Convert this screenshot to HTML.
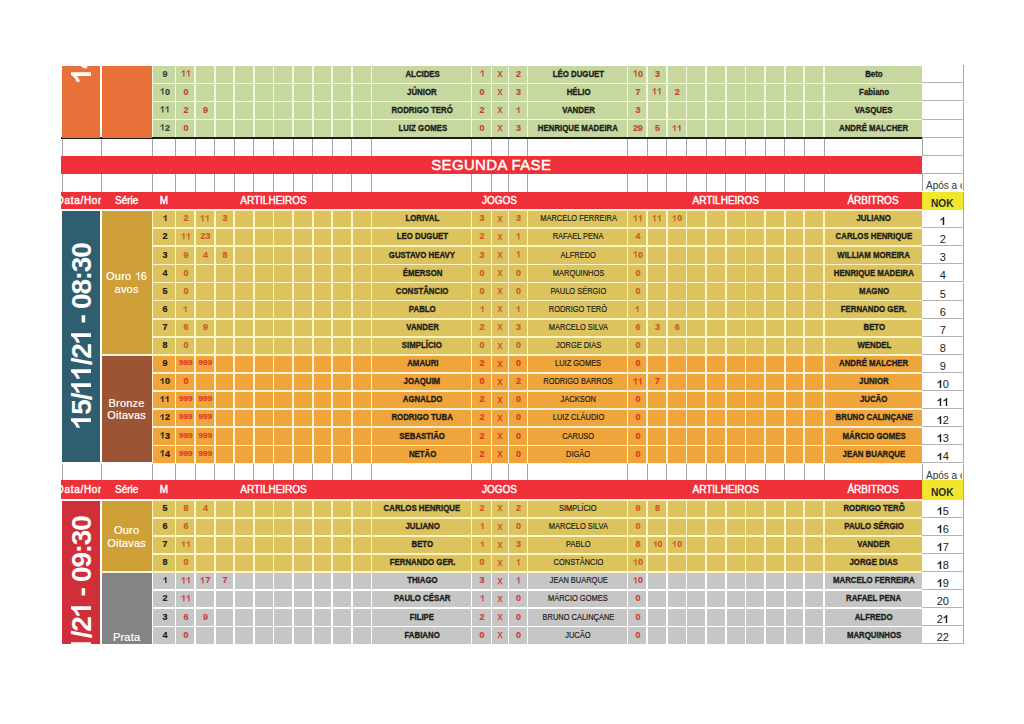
<!DOCTYPE html>
<html><head><meta charset="utf-8"><style>
html,body{margin:0;padding:0;background:#fff;width:1024px;height:724px;overflow:hidden;}
body{position:relative;font-family:"Liberation Sans",sans-serif;}
div{position:absolute;box-sizing:border-box;}
span{white-space:nowrap;}
.nm,.m,.n,.x,.nok,.h{display:flex;align-items:center;justify-content:center;white-space:nowrap;padding-bottom:1.5px;}
.nm span{font-size:9px;letter-spacing:0;color:#1e1e1a;display:inline-block;transform:scaleX(0.87);-webkit-text-stroke:0.35px #1e1e1a;padding-left:2px;padding-top:0;}
.b{font-weight:bold;}
.nm.b span{font-weight:bold;}
.nm.r span{font-weight:normal;-webkit-text-stroke:0.2px #1e1e1a;transform:scaleX(0.785);font-size:9.5px;padding-top:0;position:relative;top:-0.5px;}
.m span{font-size:9px;font-weight:bold;color:#202018;padding-left:2px;-webkit-text-stroke:0.2px currentColor;}
.m.g span{color:#34443A;}
.n{font-size:9px;font-weight:bold;letter-spacing:-0.2px;-webkit-text-stroke:0.2px currentColor;padding-left:1px;}
.x{font-size:10px;font-weight:normal;-webkit-text-stroke:0.25px currentColor;padding-top:0;padding-bottom:1.5px;}
.nok{font-size:11px;color:#222;padding-top:5.5px;}
.h{font-size:10px;font-weight:normal;-webkit-text-stroke:0.4px #fff;color:#fff;padding-top:0.5px;padding-bottom:1.5px;}
.sf{position:absolute;left:0;right:0;top:0px;text-align:center;color:#fff;font-size:15px;font-weight:normal;-webkit-text-stroke:0.45px #fff;top:0.5px;letter-spacing:0.35px;}
.apos{font-size:10px;color:#333;overflow:hidden;white-space:nowrap;padding-left:4px;padding-top:6.5px;}
.nokh{position:absolute;left:0;right:0;top:5.5px;text-align:center;font-size:10.2px;font-weight:bold;color:#2a2a2a;}
.blk{overflow:hidden;}
.g1{display:inline-block;width:0.556em;height:0.716em;vertical-align:baseline;}
.one{display:inline-block;width:0.556em;height:0.716em;margin-right:-1.25px;vertical-align:baseline;}
.rot{position:absolute;transform-origin:0 0;transform:rotate(-90deg);color:#fff;font-weight:bold;white-space:nowrap;line-height:1;}
.ser{position:absolute;left:0;right:0;text-align:center;color:#fff;font-size:11px;line-height:12.7px;letter-spacing:0.2px;-webkit-text-stroke:0.2px #fff;}
</style></head><body>
<div style="left:922.00px;top:64.80px;width:41.50px;height:1.00px;background:#B4B4B4"></div>
<div style="left:922.00px;top:65.30px;width:41.50px;height:18.10px;background:#fff;border-bottom:1px solid #B4B4B4;border-right:1.5px solid #A9A9A9;box-sizing:border-box"></div>
<div style="left:922.00px;top:83.40px;width:41.50px;height:18.10px;background:#fff;border-bottom:1px solid #B4B4B4;border-right:1.5px solid #A9A9A9;box-sizing:border-box"></div>
<div style="left:922.00px;top:101.50px;width:41.50px;height:18.10px;background:#fff;border-bottom:1px solid #B4B4B4;border-right:1.5px solid #A9A9A9;box-sizing:border-box"></div>
<div style="left:922.00px;top:119.60px;width:41.50px;height:18.10px;background:#fff;border-bottom:1px solid #B4B4B4;border-right:1.5px solid #A9A9A9;box-sizing:border-box"></div>
<div style="left:922.00px;top:137.70px;width:41.50px;height:18.10px;background:#fff;border-bottom:1px solid #B4B4B4;border-right:1.5px solid #A9A9A9;box-sizing:border-box"></div>
<div style="left:922.00px;top:155.80px;width:41.50px;height:18.10px;background:#fff;border-bottom:1px solid #B4B4B4;border-right:1.5px solid #A9A9A9;box-sizing:border-box"></div>
<div style="left:922.00px;top:173.90px;width:41.50px;height:18.10px;background:#fff;border-bottom:1px solid #B4B4B4;border-right:1.5px solid #A9A9A9;box-sizing:border-box"></div>
<div style="left:922.00px;top:192.00px;width:41.50px;height:18.10px;background:#fff;border-bottom:1px solid #B4B4B4;border-right:1.5px solid #A9A9A9;box-sizing:border-box"></div>
<div style="left:922.00px;top:210.10px;width:41.50px;height:18.10px;background:#fff;border-bottom:1px solid #B4B4B4;border-right:1.5px solid #A9A9A9;box-sizing:border-box"></div>
<div style="left:922.00px;top:228.20px;width:41.50px;height:18.10px;background:#fff;border-bottom:1px solid #B4B4B4;border-right:1.5px solid #A9A9A9;box-sizing:border-box"></div>
<div style="left:922.00px;top:246.30px;width:41.50px;height:18.10px;background:#fff;border-bottom:1px solid #B4B4B4;border-right:1.5px solid #A9A9A9;box-sizing:border-box"></div>
<div style="left:922.00px;top:264.40px;width:41.50px;height:18.10px;background:#fff;border-bottom:1px solid #B4B4B4;border-right:1.5px solid #A9A9A9;box-sizing:border-box"></div>
<div style="left:922.00px;top:282.50px;width:41.50px;height:18.10px;background:#fff;border-bottom:1px solid #B4B4B4;border-right:1.5px solid #A9A9A9;box-sizing:border-box"></div>
<div style="left:922.00px;top:300.60px;width:41.50px;height:18.10px;background:#fff;border-bottom:1px solid #B4B4B4;border-right:1.5px solid #A9A9A9;box-sizing:border-box"></div>
<div style="left:922.00px;top:318.70px;width:41.50px;height:18.10px;background:#fff;border-bottom:1px solid #B4B4B4;border-right:1.5px solid #A9A9A9;box-sizing:border-box"></div>
<div style="left:922.00px;top:336.80px;width:41.50px;height:18.10px;background:#fff;border-bottom:1px solid #B4B4B4;border-right:1.5px solid #A9A9A9;box-sizing:border-box"></div>
<div style="left:922.00px;top:354.90px;width:41.50px;height:18.10px;background:#fff;border-bottom:1px solid #B4B4B4;border-right:1.5px solid #A9A9A9;box-sizing:border-box"></div>
<div style="left:922.00px;top:373.00px;width:41.50px;height:18.10px;background:#fff;border-bottom:1px solid #B4B4B4;border-right:1.5px solid #A9A9A9;box-sizing:border-box"></div>
<div style="left:922.00px;top:391.10px;width:41.50px;height:18.10px;background:#fff;border-bottom:1px solid #B4B4B4;border-right:1.5px solid #A9A9A9;box-sizing:border-box"></div>
<div style="left:922.00px;top:409.20px;width:41.50px;height:18.10px;background:#fff;border-bottom:1px solid #B4B4B4;border-right:1.5px solid #A9A9A9;box-sizing:border-box"></div>
<div style="left:922.00px;top:427.30px;width:41.50px;height:18.10px;background:#fff;border-bottom:1px solid #B4B4B4;border-right:1.5px solid #A9A9A9;box-sizing:border-box"></div>
<div style="left:922.00px;top:445.40px;width:41.50px;height:18.10px;background:#fff;border-bottom:1px solid #B4B4B4;border-right:1.5px solid #A9A9A9;box-sizing:border-box"></div>
<div style="left:922.00px;top:463.50px;width:41.50px;height:18.10px;background:#fff;border-bottom:1px solid #B4B4B4;border-right:1.5px solid #A9A9A9;box-sizing:border-box"></div>
<div style="left:922.00px;top:481.60px;width:41.50px;height:18.10px;background:#fff;border-bottom:1px solid #B4B4B4;border-right:1.5px solid #A9A9A9;box-sizing:border-box"></div>
<div style="left:922.00px;top:499.70px;width:41.50px;height:18.10px;background:#fff;border-bottom:1px solid #B4B4B4;border-right:1.5px solid #A9A9A9;box-sizing:border-box"></div>
<div style="left:922.00px;top:517.80px;width:41.50px;height:18.10px;background:#fff;border-bottom:1px solid #B4B4B4;border-right:1.5px solid #A9A9A9;box-sizing:border-box"></div>
<div style="left:922.00px;top:535.90px;width:41.50px;height:18.10px;background:#fff;border-bottom:1px solid #B4B4B4;border-right:1.5px solid #A9A9A9;box-sizing:border-box"></div>
<div style="left:922.00px;top:554.00px;width:41.50px;height:18.10px;background:#fff;border-bottom:1px solid #B4B4B4;border-right:1.5px solid #A9A9A9;box-sizing:border-box"></div>
<div style="left:922.00px;top:572.10px;width:41.50px;height:18.10px;background:#fff;border-bottom:1px solid #B4B4B4;border-right:1.5px solid #A9A9A9;box-sizing:border-box"></div>
<div style="left:922.00px;top:590.20px;width:41.50px;height:18.10px;background:#fff;border-bottom:1px solid #B4B4B4;border-right:1.5px solid #A9A9A9;box-sizing:border-box"></div>
<div style="left:922.00px;top:608.30px;width:41.50px;height:18.10px;background:#fff;border-bottom:1px solid #B4B4B4;border-right:1.5px solid #A9A9A9;box-sizing:border-box"></div>
<div style="left:922.00px;top:626.40px;width:41.50px;height:18.10px;background:#fff;border-bottom:1px solid #B4B4B4;border-right:1.5px solid #A9A9A9;box-sizing:border-box"></div>
<div style="left:152.50px;top:65.90px;width:769.50px;height:17.50px;background:#C6D89F"></div>
<div class="m g" style="left:152.50px;top:65.30px;width:23.00px;height:18.1px"><span>9</span></div>
<div class="n" style="left:175.50px;top:65.30px;width:19.60px;height:18.1px;color:#C04830;"><svg class="g1" viewBox="0 0 556 716" preserveAspectRatio="none"><path d="M250,716 L385,716 L385,0 L290,0 C255,80 160,160 45,200 L45,320 C125,295 195,255 250,205 Z" fill="currentColor"/></svg><svg class="g1" viewBox="0 0 556 716" preserveAspectRatio="none"><path d="M250,716 L385,716 L385,0 L290,0 C255,80 160,160 45,200 L45,320 C125,295 195,255 250,205 Z" fill="currentColor"/></svg></div>
<div class="nm b" style="left:371.50px;top:65.30px;width:100.00px;height:18.1px"><span>ALCIDES</span></div>
<div class="n" style="left:471.50px;top:65.30px;width:20.00px;height:18.1px;color:#C04830"><svg class="g1" viewBox="0 0 556 716" preserveAspectRatio="none"><path d="M250,716 L385,716 L385,0 L290,0 C255,80 160,160 45,200 L45,320 C125,295 195,255 250,205 Z" fill="currentColor"/></svg></div>
<div class="x" style="left:491.50px;top:65.30px;width:17.00px;height:18.1px;color:#C04830">x</div>
<div class="n" style="left:508.50px;top:65.30px;width:19.00px;height:18.1px;color:#C04830">2</div>
<div class="nm b" style="left:527.50px;top:65.30px;width:100.00px;height:18.1px"><span>LÉO DUGUET</span></div>
<div class="n" style="left:627.50px;top:65.30px;width:19.65px;height:18.1px;color:#C04830"><svg class="g1" viewBox="0 0 556 716" preserveAspectRatio="none"><path d="M250,716 L385,716 L385,0 L290,0 C255,80 160,160 45,200 L45,320 C125,295 195,255 250,205 Z" fill="currentColor"/></svg>0</div>
<div class="n" style="left:647.15px;top:65.30px;width:19.65px;height:18.1px;color:#C04830">3</div>
<div class="nm b" style="left:824.00px;top:65.30px;width:98.00px;height:18.1px"><span>Beto</span></div>
<div style="left:152.50px;top:83.40px;width:769.50px;height:18.10px;background:#C6D89F"></div>
<div class="m g" style="left:152.50px;top:83.40px;width:23.00px;height:18.1px"><span><svg class="g1" viewBox="0 0 556 716" preserveAspectRatio="none"><path d="M250,716 L385,716 L385,0 L290,0 C255,80 160,160 45,200 L45,320 C125,295 195,255 250,205 Z" fill="currentColor"/></svg>0</span></div>
<div class="n" style="left:175.50px;top:83.40px;width:19.60px;height:18.1px;color:#C04830;">0</div>
<div class="nm b" style="left:371.50px;top:83.40px;width:100.00px;height:18.1px"><span>JÚNIOR</span></div>
<div class="n" style="left:471.50px;top:83.40px;width:20.00px;height:18.1px;color:#C04830">0</div>
<div class="x" style="left:491.50px;top:83.40px;width:17.00px;height:18.1px;color:#C04830">x</div>
<div class="n" style="left:508.50px;top:83.40px;width:19.00px;height:18.1px;color:#C04830">3</div>
<div class="nm b" style="left:527.50px;top:83.40px;width:100.00px;height:18.1px"><span>HÉLIO</span></div>
<div class="n" style="left:627.50px;top:83.40px;width:19.65px;height:18.1px;color:#C04830">7</div>
<div class="n" style="left:647.15px;top:83.40px;width:19.65px;height:18.1px;color:#C04830"><svg class="g1" viewBox="0 0 556 716" preserveAspectRatio="none"><path d="M250,716 L385,716 L385,0 L290,0 C255,80 160,160 45,200 L45,320 C125,295 195,255 250,205 Z" fill="currentColor"/></svg><svg class="g1" viewBox="0 0 556 716" preserveAspectRatio="none"><path d="M250,716 L385,716 L385,0 L290,0 C255,80 160,160 45,200 L45,320 C125,295 195,255 250,205 Z" fill="currentColor"/></svg></div>
<div class="n" style="left:666.80px;top:83.40px;width:19.65px;height:18.1px;color:#C04830">2</div>
<div class="nm b" style="left:824.00px;top:83.40px;width:98.00px;height:18.1px"><span>Fabiano</span></div>
<div style="left:152.50px;top:101.50px;width:769.50px;height:18.10px;background:#C6D89F"></div>
<div class="m g" style="left:152.50px;top:101.50px;width:23.00px;height:18.1px"><span><svg class="g1" viewBox="0 0 556 716" preserveAspectRatio="none"><path d="M250,716 L385,716 L385,0 L290,0 C255,80 160,160 45,200 L45,320 C125,295 195,255 250,205 Z" fill="currentColor"/></svg><svg class="g1" viewBox="0 0 556 716" preserveAspectRatio="none"><path d="M250,716 L385,716 L385,0 L290,0 C255,80 160,160 45,200 L45,320 C125,295 195,255 250,205 Z" fill="currentColor"/></svg></span></div>
<div class="n" style="left:175.50px;top:101.50px;width:19.60px;height:18.1px;color:#C04830;">2</div>
<div class="n" style="left:195.10px;top:101.50px;width:19.60px;height:18.1px;color:#C04830;">9</div>
<div class="nm b" style="left:371.50px;top:101.50px;width:100.00px;height:18.1px"><span>RODRIGO TERÓ</span></div>
<div class="n" style="left:471.50px;top:101.50px;width:20.00px;height:18.1px;color:#C04830">2</div>
<div class="x" style="left:491.50px;top:101.50px;width:17.00px;height:18.1px;color:#C04830">x</div>
<div class="n" style="left:508.50px;top:101.50px;width:19.00px;height:18.1px;color:#C04830"><svg class="g1" viewBox="0 0 556 716" preserveAspectRatio="none"><path d="M250,716 L385,716 L385,0 L290,0 C255,80 160,160 45,200 L45,320 C125,295 195,255 250,205 Z" fill="currentColor"/></svg></div>
<div class="nm b" style="left:527.50px;top:101.50px;width:100.00px;height:18.1px"><span>VANDER</span></div>
<div class="n" style="left:627.50px;top:101.50px;width:19.65px;height:18.1px;color:#C04830">3</div>
<div class="nm b" style="left:824.00px;top:101.50px;width:98.00px;height:18.1px"><span>VASQUES</span></div>
<div style="left:152.50px;top:119.60px;width:769.50px;height:18.10px;background:#C6D89F"></div>
<div class="m g" style="left:152.50px;top:119.60px;width:23.00px;height:18.1px"><span><svg class="g1" viewBox="0 0 556 716" preserveAspectRatio="none"><path d="M250,716 L385,716 L385,0 L290,0 C255,80 160,160 45,200 L45,320 C125,295 195,255 250,205 Z" fill="currentColor"/></svg>2</span></div>
<div class="n" style="left:175.50px;top:119.60px;width:19.60px;height:18.1px;color:#C04830;">0</div>
<div class="nm b" style="left:371.50px;top:119.60px;width:100.00px;height:18.1px"><span>LUIZ GOMES</span></div>
<div class="n" style="left:471.50px;top:119.60px;width:20.00px;height:18.1px;color:#C04830">0</div>
<div class="x" style="left:491.50px;top:119.60px;width:17.00px;height:18.1px;color:#C04830">x</div>
<div class="n" style="left:508.50px;top:119.60px;width:19.00px;height:18.1px;color:#C04830">3</div>
<div class="nm b" style="left:527.50px;top:119.60px;width:100.00px;height:18.1px"><span>HENRIQUE MADEIRA</span></div>
<div class="n" style="left:627.50px;top:119.60px;width:19.65px;height:18.1px;color:#C04830">29</div>
<div class="n" style="left:647.15px;top:119.60px;width:19.65px;height:18.1px;color:#C04830">5</div>
<div class="n" style="left:666.80px;top:119.60px;width:19.65px;height:18.1px;color:#C04830"><svg class="g1" viewBox="0 0 556 716" preserveAspectRatio="none"><path d="M250,716 L385,716 L385,0 L290,0 C255,80 160,160 45,200 L45,320 C125,295 195,255 250,205 Z" fill="currentColor"/></svg><svg class="g1" viewBox="0 0 556 716" preserveAspectRatio="none"><path d="M250,716 L385,716 L385,0 L290,0 C255,80 160,160 45,200 L45,320 C125,295 195,255 250,205 Z" fill="currentColor"/></svg></div>
<div class="nm b" style="left:824.00px;top:119.60px;width:98.00px;height:18.1px"><span>ANDRÉ MALCHER</span></div>
<div style="left:152.50px;top:210.10px;width:769.50px;height:18.10px;background:#DDC35E"></div>
<div class="m" style="left:152.50px;top:210.10px;width:23.00px;height:18.1px"><span><svg class="g1" viewBox="0 0 556 716" preserveAspectRatio="none"><path d="M250,716 L385,716 L385,0 L290,0 C255,80 160,160 45,200 L45,320 C125,295 195,255 250,205 Z" fill="currentColor"/></svg></span></div>
<div class="n" style="left:175.50px;top:210.10px;width:19.60px;height:18.1px;color:#CC5A22;">2</div>
<div class="n" style="left:195.10px;top:210.10px;width:19.60px;height:18.1px;color:#CC5A22;"><svg class="g1" viewBox="0 0 556 716" preserveAspectRatio="none"><path d="M250,716 L385,716 L385,0 L290,0 C255,80 160,160 45,200 L45,320 C125,295 195,255 250,205 Z" fill="currentColor"/></svg><svg class="g1" viewBox="0 0 556 716" preserveAspectRatio="none"><path d="M250,716 L385,716 L385,0 L290,0 C255,80 160,160 45,200 L45,320 C125,295 195,255 250,205 Z" fill="currentColor"/></svg></div>
<div class="n" style="left:214.70px;top:210.10px;width:19.60px;height:18.1px;color:#CC5A22;">3</div>
<div class="nm b" style="left:371.50px;top:210.10px;width:100.00px;height:18.1px"><span>LORIVAL</span></div>
<div class="n" style="left:471.50px;top:210.10px;width:20.00px;height:18.1px;color:#CC5A22">3</div>
<div class="x" style="left:491.50px;top:210.10px;width:17.00px;height:18.1px;color:#CC5A22">x</div>
<div class="n" style="left:508.50px;top:210.10px;width:19.00px;height:18.1px;color:#CC5A22">3</div>
<div class="nm r" style="left:527.50px;top:210.10px;width:100.00px;height:18.1px"><span>MARCELO FERREIRA</span></div>
<div class="n" style="left:627.50px;top:210.10px;width:19.65px;height:18.1px;color:#CC5A22"><svg class="g1" viewBox="0 0 556 716" preserveAspectRatio="none"><path d="M250,716 L385,716 L385,0 L290,0 C255,80 160,160 45,200 L45,320 C125,295 195,255 250,205 Z" fill="currentColor"/></svg><svg class="g1" viewBox="0 0 556 716" preserveAspectRatio="none"><path d="M250,716 L385,716 L385,0 L290,0 C255,80 160,160 45,200 L45,320 C125,295 195,255 250,205 Z" fill="currentColor"/></svg></div>
<div class="n" style="left:647.15px;top:210.10px;width:19.65px;height:18.1px;color:#CC5A22"><svg class="g1" viewBox="0 0 556 716" preserveAspectRatio="none"><path d="M250,716 L385,716 L385,0 L290,0 C255,80 160,160 45,200 L45,320 C125,295 195,255 250,205 Z" fill="currentColor"/></svg><svg class="g1" viewBox="0 0 556 716" preserveAspectRatio="none"><path d="M250,716 L385,716 L385,0 L290,0 C255,80 160,160 45,200 L45,320 C125,295 195,255 250,205 Z" fill="currentColor"/></svg></div>
<div class="n" style="left:666.80px;top:210.10px;width:19.65px;height:18.1px;color:#CC5A22"><svg class="g1" viewBox="0 0 556 716" preserveAspectRatio="none"><path d="M250,716 L385,716 L385,0 L290,0 C255,80 160,160 45,200 L45,320 C125,295 195,255 250,205 Z" fill="currentColor"/></svg>0</div>
<div class="nm b" style="left:824.00px;top:210.10px;width:98.00px;height:18.1px"><span>JULIANO</span></div>
<div class="nok" style="left:922.00px;top:210.10px;width:41.50px;height:18.1px"><svg class="g1" viewBox="0 0 556 716" preserveAspectRatio="none"><path d="M250,716 L385,716 L385,0 L290,0 C255,80 160,160 45,200 L45,320 C125,295 195,255 250,205 Z" fill="currentColor"/></svg></div>
<div style="left:152.50px;top:228.20px;width:769.50px;height:18.10px;background:#DDC35E"></div>
<div class="m" style="left:152.50px;top:228.20px;width:23.00px;height:18.1px"><span>2</span></div>
<div class="n" style="left:175.50px;top:228.20px;width:19.60px;height:18.1px;color:#CC5A22;"><svg class="g1" viewBox="0 0 556 716" preserveAspectRatio="none"><path d="M250,716 L385,716 L385,0 L290,0 C255,80 160,160 45,200 L45,320 C125,295 195,255 250,205 Z" fill="currentColor"/></svg><svg class="g1" viewBox="0 0 556 716" preserveAspectRatio="none"><path d="M250,716 L385,716 L385,0 L290,0 C255,80 160,160 45,200 L45,320 C125,295 195,255 250,205 Z" fill="currentColor"/></svg></div>
<div class="n" style="left:195.10px;top:228.20px;width:19.60px;height:18.1px;color:#CC5A22;">23</div>
<div class="nm b" style="left:371.50px;top:228.20px;width:100.00px;height:18.1px"><span>LEO DUGUET</span></div>
<div class="n" style="left:471.50px;top:228.20px;width:20.00px;height:18.1px;color:#CC5A22">2</div>
<div class="x" style="left:491.50px;top:228.20px;width:17.00px;height:18.1px;color:#CC5A22">x</div>
<div class="n" style="left:508.50px;top:228.20px;width:19.00px;height:18.1px;color:#CC5A22"><svg class="g1" viewBox="0 0 556 716" preserveAspectRatio="none"><path d="M250,716 L385,716 L385,0 L290,0 C255,80 160,160 45,200 L45,320 C125,295 195,255 250,205 Z" fill="currentColor"/></svg></div>
<div class="nm r" style="left:527.50px;top:228.20px;width:100.00px;height:18.1px"><span>RAFAEL PENA</span></div>
<div class="n" style="left:627.50px;top:228.20px;width:19.65px;height:18.1px;color:#CC5A22">4</div>
<div class="nm b" style="left:824.00px;top:228.20px;width:98.00px;height:18.1px"><span>CARLOS HENRIQUE</span></div>
<div class="nok" style="left:922.00px;top:228.20px;width:41.50px;height:18.1px">2</div>
<div style="left:152.50px;top:246.30px;width:769.50px;height:18.10px;background:#DDC35E"></div>
<div class="m" style="left:152.50px;top:246.30px;width:23.00px;height:18.1px"><span>3</span></div>
<div class="n" style="left:175.50px;top:246.30px;width:19.60px;height:18.1px;color:#CC5A22;">9</div>
<div class="n" style="left:195.10px;top:246.30px;width:19.60px;height:18.1px;color:#CC5A22;">4</div>
<div class="n" style="left:214.70px;top:246.30px;width:19.60px;height:18.1px;color:#CC5A22;">8</div>
<div class="nm b" style="left:371.50px;top:246.30px;width:100.00px;height:18.1px"><span>GUSTAVO HEAVY</span></div>
<div class="n" style="left:471.50px;top:246.30px;width:20.00px;height:18.1px;color:#CC5A22">3</div>
<div class="x" style="left:491.50px;top:246.30px;width:17.00px;height:18.1px;color:#CC5A22">x</div>
<div class="n" style="left:508.50px;top:246.30px;width:19.00px;height:18.1px;color:#CC5A22"><svg class="g1" viewBox="0 0 556 716" preserveAspectRatio="none"><path d="M250,716 L385,716 L385,0 L290,0 C255,80 160,160 45,200 L45,320 C125,295 195,255 250,205 Z" fill="currentColor"/></svg></div>
<div class="nm r" style="left:527.50px;top:246.30px;width:100.00px;height:18.1px"><span>ALFREDO</span></div>
<div class="n" style="left:627.50px;top:246.30px;width:19.65px;height:18.1px;color:#CC5A22"><svg class="g1" viewBox="0 0 556 716" preserveAspectRatio="none"><path d="M250,716 L385,716 L385,0 L290,0 C255,80 160,160 45,200 L45,320 C125,295 195,255 250,205 Z" fill="currentColor"/></svg>0</div>
<div class="nm b" style="left:824.00px;top:246.30px;width:98.00px;height:18.1px"><span>WILLIAM MOREIRA</span></div>
<div class="nok" style="left:922.00px;top:246.30px;width:41.50px;height:18.1px">3</div>
<div style="left:152.50px;top:264.40px;width:769.50px;height:18.10px;background:#DDC35E"></div>
<div class="m" style="left:152.50px;top:264.40px;width:23.00px;height:18.1px"><span>4</span></div>
<div class="n" style="left:175.50px;top:264.40px;width:19.60px;height:18.1px;color:#CC5A22;">0</div>
<div class="nm b" style="left:371.50px;top:264.40px;width:100.00px;height:18.1px"><span>ÉMERSON</span></div>
<div class="n" style="left:471.50px;top:264.40px;width:20.00px;height:18.1px;color:#CC5A22">0</div>
<div class="x" style="left:491.50px;top:264.40px;width:17.00px;height:18.1px;color:#CC5A22">x</div>
<div class="n" style="left:508.50px;top:264.40px;width:19.00px;height:18.1px;color:#CC5A22">0</div>
<div class="nm r" style="left:527.50px;top:264.40px;width:100.00px;height:18.1px"><span>MARQUINHOS</span></div>
<div class="n" style="left:627.50px;top:264.40px;width:19.65px;height:18.1px;color:#CC5A22">0</div>
<div class="nm b" style="left:824.00px;top:264.40px;width:98.00px;height:18.1px"><span>HENRIQUE MADEIRA</span></div>
<div class="nok" style="left:922.00px;top:264.40px;width:41.50px;height:18.1px">4</div>
<div style="left:152.50px;top:282.50px;width:769.50px;height:18.10px;background:#DDC35E"></div>
<div class="m" style="left:152.50px;top:282.50px;width:23.00px;height:18.1px"><span>5</span></div>
<div class="n" style="left:175.50px;top:282.50px;width:19.60px;height:18.1px;color:#CC5A22;">0</div>
<div class="nm b" style="left:371.50px;top:282.50px;width:100.00px;height:18.1px"><span>CONSTÂNCIO</span></div>
<div class="n" style="left:471.50px;top:282.50px;width:20.00px;height:18.1px;color:#CC5A22">0</div>
<div class="x" style="left:491.50px;top:282.50px;width:17.00px;height:18.1px;color:#CC5A22">x</div>
<div class="n" style="left:508.50px;top:282.50px;width:19.00px;height:18.1px;color:#CC5A22">0</div>
<div class="nm r" style="left:527.50px;top:282.50px;width:100.00px;height:18.1px"><span>PAULO SÉRGIO</span></div>
<div class="n" style="left:627.50px;top:282.50px;width:19.65px;height:18.1px;color:#CC5A22">0</div>
<div class="nm b" style="left:824.00px;top:282.50px;width:98.00px;height:18.1px"><span>MAGNO</span></div>
<div class="nok" style="left:922.00px;top:282.50px;width:41.50px;height:18.1px">5</div>
<div style="left:152.50px;top:300.60px;width:769.50px;height:18.10px;background:#DDC35E"></div>
<div class="m" style="left:152.50px;top:300.60px;width:23.00px;height:18.1px"><span>6</span></div>
<div class="n" style="left:175.50px;top:300.60px;width:19.60px;height:18.1px;color:#CC5A22;"><svg class="g1" viewBox="0 0 556 716" preserveAspectRatio="none"><path d="M250,716 L385,716 L385,0 L290,0 C255,80 160,160 45,200 L45,320 C125,295 195,255 250,205 Z" fill="currentColor"/></svg></div>
<div class="nm b" style="left:371.50px;top:300.60px;width:100.00px;height:18.1px"><span>PABLO</span></div>
<div class="n" style="left:471.50px;top:300.60px;width:20.00px;height:18.1px;color:#CC5A22"><svg class="g1" viewBox="0 0 556 716" preserveAspectRatio="none"><path d="M250,716 L385,716 L385,0 L290,0 C255,80 160,160 45,200 L45,320 C125,295 195,255 250,205 Z" fill="currentColor"/></svg></div>
<div class="x" style="left:491.50px;top:300.60px;width:17.00px;height:18.1px;color:#CC5A22">x</div>
<div class="n" style="left:508.50px;top:300.60px;width:19.00px;height:18.1px;color:#CC5A22"><svg class="g1" viewBox="0 0 556 716" preserveAspectRatio="none"><path d="M250,716 L385,716 L385,0 L290,0 C255,80 160,160 45,200 L45,320 C125,295 195,255 250,205 Z" fill="currentColor"/></svg></div>
<div class="nm r" style="left:527.50px;top:300.60px;width:100.00px;height:18.1px"><span>RODRIGO TERÔ</span></div>
<div class="n" style="left:627.50px;top:300.60px;width:19.65px;height:18.1px;color:#CC5A22"><svg class="g1" viewBox="0 0 556 716" preserveAspectRatio="none"><path d="M250,716 L385,716 L385,0 L290,0 C255,80 160,160 45,200 L45,320 C125,295 195,255 250,205 Z" fill="currentColor"/></svg></div>
<div class="nm b" style="left:824.00px;top:300.60px;width:98.00px;height:18.1px"><span>FERNANDO GER.</span></div>
<div class="nok" style="left:922.00px;top:300.60px;width:41.50px;height:18.1px">6</div>
<div style="left:152.50px;top:318.70px;width:769.50px;height:18.10px;background:#DDC35E"></div>
<div class="m" style="left:152.50px;top:318.70px;width:23.00px;height:18.1px"><span>7</span></div>
<div class="n" style="left:175.50px;top:318.70px;width:19.60px;height:18.1px;color:#CC5A22;">6</div>
<div class="n" style="left:195.10px;top:318.70px;width:19.60px;height:18.1px;color:#CC5A22;">9</div>
<div class="nm b" style="left:371.50px;top:318.70px;width:100.00px;height:18.1px"><span>VANDER</span></div>
<div class="n" style="left:471.50px;top:318.70px;width:20.00px;height:18.1px;color:#CC5A22">2</div>
<div class="x" style="left:491.50px;top:318.70px;width:17.00px;height:18.1px;color:#CC5A22">x</div>
<div class="n" style="left:508.50px;top:318.70px;width:19.00px;height:18.1px;color:#CC5A22">3</div>
<div class="nm r" style="left:527.50px;top:318.70px;width:100.00px;height:18.1px"><span>MARCELO SILVA</span></div>
<div class="n" style="left:627.50px;top:318.70px;width:19.65px;height:18.1px;color:#CC5A22">6</div>
<div class="n" style="left:647.15px;top:318.70px;width:19.65px;height:18.1px;color:#CC5A22">3</div>
<div class="n" style="left:666.80px;top:318.70px;width:19.65px;height:18.1px;color:#CC5A22">6</div>
<div class="nm b" style="left:824.00px;top:318.70px;width:98.00px;height:18.1px"><span>BETO</span></div>
<div class="nok" style="left:922.00px;top:318.70px;width:41.50px;height:18.1px">7</div>
<div style="left:152.50px;top:336.80px;width:769.50px;height:18.10px;background:#DDC35E"></div>
<div class="m" style="left:152.50px;top:336.80px;width:23.00px;height:18.1px"><span>8</span></div>
<div class="n" style="left:175.50px;top:336.80px;width:19.60px;height:18.1px;color:#CC5A22;">0</div>
<div class="nm b" style="left:371.50px;top:336.80px;width:100.00px;height:18.1px"><span>SIMPLÍCIO</span></div>
<div class="n" style="left:471.50px;top:336.80px;width:20.00px;height:18.1px;color:#CC5A22">0</div>
<div class="x" style="left:491.50px;top:336.80px;width:17.00px;height:18.1px;color:#CC5A22">x</div>
<div class="n" style="left:508.50px;top:336.80px;width:19.00px;height:18.1px;color:#CC5A22">0</div>
<div class="nm r" style="left:527.50px;top:336.80px;width:100.00px;height:18.1px"><span>JORGE DIAS</span></div>
<div class="n" style="left:627.50px;top:336.80px;width:19.65px;height:18.1px;color:#CC5A22">0</div>
<div class="nm b" style="left:824.00px;top:336.80px;width:98.00px;height:18.1px"><span>WENDEL</span></div>
<div class="nok" style="left:922.00px;top:336.80px;width:41.50px;height:18.1px">8</div>
<div style="left:152.50px;top:354.90px;width:769.50px;height:18.10px;background:#F0A43C"></div>
<div class="m" style="left:152.50px;top:354.90px;width:23.00px;height:18.1px"><span>9</span></div>
<div class="n" style="left:175.50px;top:354.90px;width:19.60px;height:18.1px;color:#DC3A26;font-size:8px;letter-spacing:0.15px;padding-bottom:2.5px;">999</div>
<div class="n" style="left:195.10px;top:354.90px;width:19.60px;height:18.1px;color:#DC3A26;font-size:8px;letter-spacing:0.15px;padding-bottom:2.5px;">999</div>
<div class="nm b" style="left:371.50px;top:354.90px;width:100.00px;height:18.1px"><span>AMAURI</span></div>
<div class="n" style="left:471.50px;top:354.90px;width:20.00px;height:18.1px;color:#DC3A26">2</div>
<div class="x" style="left:491.50px;top:354.90px;width:17.00px;height:18.1px;color:#DC3A26">x</div>
<div class="n" style="left:508.50px;top:354.90px;width:19.00px;height:18.1px;color:#DC3A26">0</div>
<div class="nm r" style="left:527.50px;top:354.90px;width:100.00px;height:18.1px"><span>LUIZ GOMES</span></div>
<div class="n" style="left:627.50px;top:354.90px;width:19.65px;height:18.1px;color:#DC3A26">0</div>
<div class="nm b" style="left:824.00px;top:354.90px;width:98.00px;height:18.1px"><span>ANDRÉ MALCHER</span></div>
<div class="nok" style="left:922.00px;top:354.90px;width:41.50px;height:18.1px">9</div>
<div style="left:152.50px;top:373.00px;width:769.50px;height:18.10px;background:#F0A43C"></div>
<div class="m" style="left:152.50px;top:373.00px;width:23.00px;height:18.1px"><span><svg class="g1" viewBox="0 0 556 716" preserveAspectRatio="none"><path d="M250,716 L385,716 L385,0 L290,0 C255,80 160,160 45,200 L45,320 C125,295 195,255 250,205 Z" fill="currentColor"/></svg>0</span></div>
<div class="n" style="left:175.50px;top:373.00px;width:19.60px;height:18.1px;color:#DC3A26;">0</div>
<div class="nm b" style="left:371.50px;top:373.00px;width:100.00px;height:18.1px"><span>JOAQUIM</span></div>
<div class="n" style="left:471.50px;top:373.00px;width:20.00px;height:18.1px;color:#DC3A26">0</div>
<div class="x" style="left:491.50px;top:373.00px;width:17.00px;height:18.1px;color:#DC3A26">x</div>
<div class="n" style="left:508.50px;top:373.00px;width:19.00px;height:18.1px;color:#DC3A26">2</div>
<div class="nm r" style="left:527.50px;top:373.00px;width:100.00px;height:18.1px"><span>RODRIGO BARROS</span></div>
<div class="n" style="left:627.50px;top:373.00px;width:19.65px;height:18.1px;color:#DC3A26"><svg class="g1" viewBox="0 0 556 716" preserveAspectRatio="none"><path d="M250,716 L385,716 L385,0 L290,0 C255,80 160,160 45,200 L45,320 C125,295 195,255 250,205 Z" fill="currentColor"/></svg><svg class="g1" viewBox="0 0 556 716" preserveAspectRatio="none"><path d="M250,716 L385,716 L385,0 L290,0 C255,80 160,160 45,200 L45,320 C125,295 195,255 250,205 Z" fill="currentColor"/></svg></div>
<div class="n" style="left:647.15px;top:373.00px;width:19.65px;height:18.1px;color:#DC3A26">7</div>
<div class="nm b" style="left:824.00px;top:373.00px;width:98.00px;height:18.1px"><span>JUNIOR</span></div>
<div class="nok" style="left:922.00px;top:373.00px;width:41.50px;height:18.1px"><svg class="g1" viewBox="0 0 556 716" preserveAspectRatio="none"><path d="M250,716 L385,716 L385,0 L290,0 C255,80 160,160 45,200 L45,320 C125,295 195,255 250,205 Z" fill="currentColor"/></svg>0</div>
<div style="left:152.50px;top:391.10px;width:769.50px;height:18.10px;background:#F0A43C"></div>
<div class="m" style="left:152.50px;top:391.10px;width:23.00px;height:18.1px"><span><svg class="g1" viewBox="0 0 556 716" preserveAspectRatio="none"><path d="M250,716 L385,716 L385,0 L290,0 C255,80 160,160 45,200 L45,320 C125,295 195,255 250,205 Z" fill="currentColor"/></svg><svg class="g1" viewBox="0 0 556 716" preserveAspectRatio="none"><path d="M250,716 L385,716 L385,0 L290,0 C255,80 160,160 45,200 L45,320 C125,295 195,255 250,205 Z" fill="currentColor"/></svg></span></div>
<div class="n" style="left:175.50px;top:391.10px;width:19.60px;height:18.1px;color:#DC3A26;font-size:8px;letter-spacing:0.15px;padding-bottom:2.5px;">999</div>
<div class="n" style="left:195.10px;top:391.10px;width:19.60px;height:18.1px;color:#DC3A26;font-size:8px;letter-spacing:0.15px;padding-bottom:2.5px;">999</div>
<div class="nm b" style="left:371.50px;top:391.10px;width:100.00px;height:18.1px"><span>AGNALDO</span></div>
<div class="n" style="left:471.50px;top:391.10px;width:20.00px;height:18.1px;color:#DC3A26">2</div>
<div class="x" style="left:491.50px;top:391.10px;width:17.00px;height:18.1px;color:#DC3A26">x</div>
<div class="n" style="left:508.50px;top:391.10px;width:19.00px;height:18.1px;color:#DC3A26">0</div>
<div class="nm r" style="left:527.50px;top:391.10px;width:100.00px;height:18.1px"><span>JACKSON</span></div>
<div class="n" style="left:627.50px;top:391.10px;width:19.65px;height:18.1px;color:#DC3A26">0</div>
<div class="nm b" style="left:824.00px;top:391.10px;width:98.00px;height:18.1px"><span>JUCÃO</span></div>
<div class="nok" style="left:922.00px;top:391.10px;width:41.50px;height:18.1px"><svg class="g1" viewBox="0 0 556 716" preserveAspectRatio="none"><path d="M250,716 L385,716 L385,0 L290,0 C255,80 160,160 45,200 L45,320 C125,295 195,255 250,205 Z" fill="currentColor"/></svg><svg class="g1" viewBox="0 0 556 716" preserveAspectRatio="none"><path d="M250,716 L385,716 L385,0 L290,0 C255,80 160,160 45,200 L45,320 C125,295 195,255 250,205 Z" fill="currentColor"/></svg></div>
<div style="left:152.50px;top:409.20px;width:769.50px;height:18.10px;background:#F0A43C"></div>
<div class="m" style="left:152.50px;top:409.20px;width:23.00px;height:18.1px"><span><svg class="g1" viewBox="0 0 556 716" preserveAspectRatio="none"><path d="M250,716 L385,716 L385,0 L290,0 C255,80 160,160 45,200 L45,320 C125,295 195,255 250,205 Z" fill="currentColor"/></svg>2</span></div>
<div class="n" style="left:175.50px;top:409.20px;width:19.60px;height:18.1px;color:#DC3A26;font-size:8px;letter-spacing:0.15px;padding-bottom:2.5px;">999</div>
<div class="n" style="left:195.10px;top:409.20px;width:19.60px;height:18.1px;color:#DC3A26;font-size:8px;letter-spacing:0.15px;padding-bottom:2.5px;">999</div>
<div class="nm b" style="left:371.50px;top:409.20px;width:100.00px;height:18.1px"><span>RODRIGO TUBA</span></div>
<div class="n" style="left:471.50px;top:409.20px;width:20.00px;height:18.1px;color:#DC3A26">2</div>
<div class="x" style="left:491.50px;top:409.20px;width:17.00px;height:18.1px;color:#DC3A26">x</div>
<div class="n" style="left:508.50px;top:409.20px;width:19.00px;height:18.1px;color:#DC3A26">0</div>
<div class="nm r" style="left:527.50px;top:409.20px;width:100.00px;height:18.1px"><span>LUIZ CLÁUDIO</span></div>
<div class="n" style="left:627.50px;top:409.20px;width:19.65px;height:18.1px;color:#DC3A26">0</div>
<div class="nm b" style="left:824.00px;top:409.20px;width:98.00px;height:18.1px"><span>BRUNO CALINÇANE</span></div>
<div class="nok" style="left:922.00px;top:409.20px;width:41.50px;height:18.1px"><svg class="g1" viewBox="0 0 556 716" preserveAspectRatio="none"><path d="M250,716 L385,716 L385,0 L290,0 C255,80 160,160 45,200 L45,320 C125,295 195,255 250,205 Z" fill="currentColor"/></svg>2</div>
<div style="left:152.50px;top:427.30px;width:769.50px;height:18.10px;background:#F0A43C"></div>
<div class="m" style="left:152.50px;top:427.30px;width:23.00px;height:18.1px"><span><svg class="g1" viewBox="0 0 556 716" preserveAspectRatio="none"><path d="M250,716 L385,716 L385,0 L290,0 C255,80 160,160 45,200 L45,320 C125,295 195,255 250,205 Z" fill="currentColor"/></svg>3</span></div>
<div class="n" style="left:175.50px;top:427.30px;width:19.60px;height:18.1px;color:#DC3A26;font-size:8px;letter-spacing:0.15px;padding-bottom:2.5px;">999</div>
<div class="n" style="left:195.10px;top:427.30px;width:19.60px;height:18.1px;color:#DC3A26;font-size:8px;letter-spacing:0.15px;padding-bottom:2.5px;">999</div>
<div class="nm b" style="left:371.50px;top:427.30px;width:100.00px;height:18.1px"><span>SEBASTIÃO</span></div>
<div class="n" style="left:471.50px;top:427.30px;width:20.00px;height:18.1px;color:#DC3A26">2</div>
<div class="x" style="left:491.50px;top:427.30px;width:17.00px;height:18.1px;color:#DC3A26">x</div>
<div class="n" style="left:508.50px;top:427.30px;width:19.00px;height:18.1px;color:#DC3A26">0</div>
<div class="nm r" style="left:527.50px;top:427.30px;width:100.00px;height:18.1px"><span>CARUSO</span></div>
<div class="n" style="left:627.50px;top:427.30px;width:19.65px;height:18.1px;color:#DC3A26">0</div>
<div class="nm b" style="left:824.00px;top:427.30px;width:98.00px;height:18.1px"><span>MÁRCIO GOMES</span></div>
<div class="nok" style="left:922.00px;top:427.30px;width:41.50px;height:18.1px"><svg class="g1" viewBox="0 0 556 716" preserveAspectRatio="none"><path d="M250,716 L385,716 L385,0 L290,0 C255,80 160,160 45,200 L45,320 C125,295 195,255 250,205 Z" fill="currentColor"/></svg>3</div>
<div style="left:152.50px;top:445.40px;width:769.50px;height:18.10px;background:#F0A43C"></div>
<div class="m" style="left:152.50px;top:445.40px;width:23.00px;height:18.1px"><span><svg class="g1" viewBox="0 0 556 716" preserveAspectRatio="none"><path d="M250,716 L385,716 L385,0 L290,0 C255,80 160,160 45,200 L45,320 C125,295 195,255 250,205 Z" fill="currentColor"/></svg>4</span></div>
<div class="n" style="left:175.50px;top:445.40px;width:19.60px;height:18.1px;color:#DC3A26;font-size:8px;letter-spacing:0.15px;padding-bottom:2.5px;">999</div>
<div class="n" style="left:195.10px;top:445.40px;width:19.60px;height:18.1px;color:#DC3A26;font-size:8px;letter-spacing:0.15px;padding-bottom:2.5px;">999</div>
<div class="nm b" style="left:371.50px;top:445.40px;width:100.00px;height:18.1px"><span>NETÃO</span></div>
<div class="n" style="left:471.50px;top:445.40px;width:20.00px;height:18.1px;color:#DC3A26">2</div>
<div class="x" style="left:491.50px;top:445.40px;width:17.00px;height:18.1px;color:#DC3A26">x</div>
<div class="n" style="left:508.50px;top:445.40px;width:19.00px;height:18.1px;color:#DC3A26">0</div>
<div class="nm r" style="left:527.50px;top:445.40px;width:100.00px;height:18.1px"><span>DIGÃO</span></div>
<div class="n" style="left:627.50px;top:445.40px;width:19.65px;height:18.1px;color:#DC3A26">0</div>
<div class="nm b" style="left:824.00px;top:445.40px;width:98.00px;height:18.1px"><span>JEAN BUARQUE</span></div>
<div class="nok" style="left:922.00px;top:445.40px;width:41.50px;height:18.1px"><svg class="g1" viewBox="0 0 556 716" preserveAspectRatio="none"><path d="M250,716 L385,716 L385,0 L290,0 C255,80 160,160 45,200 L45,320 C125,295 195,255 250,205 Z" fill="currentColor"/></svg>4</div>
<div style="left:152.50px;top:499.70px;width:769.50px;height:18.10px;background:#DDC35E"></div>
<div class="m" style="left:152.50px;top:499.70px;width:23.00px;height:18.1px"><span>5</span></div>
<div class="n" style="left:175.50px;top:499.70px;width:19.60px;height:18.1px;color:#CC5A22;">8</div>
<div class="n" style="left:195.10px;top:499.70px;width:19.60px;height:18.1px;color:#CC5A22;">4</div>
<div class="nm b" style="left:371.50px;top:499.70px;width:100.00px;height:18.1px"><span>CARLOS HENRIQUE</span></div>
<div class="n" style="left:471.50px;top:499.70px;width:20.00px;height:18.1px;color:#CC5A22">2</div>
<div class="x" style="left:491.50px;top:499.70px;width:17.00px;height:18.1px;color:#CC5A22">x</div>
<div class="n" style="left:508.50px;top:499.70px;width:19.00px;height:18.1px;color:#CC5A22">2</div>
<div class="nm r" style="left:527.50px;top:499.70px;width:100.00px;height:18.1px"><span>SIMPLÍCIO</span></div>
<div class="n" style="left:627.50px;top:499.70px;width:19.65px;height:18.1px;color:#CC5A22">9</div>
<div class="n" style="left:647.15px;top:499.70px;width:19.65px;height:18.1px;color:#CC5A22">8</div>
<div class="nm b" style="left:824.00px;top:499.70px;width:98.00px;height:18.1px"><span>RODRIGO TERÔ</span></div>
<div class="nok" style="left:922.00px;top:499.70px;width:41.50px;height:18.1px"><svg class="g1" viewBox="0 0 556 716" preserveAspectRatio="none"><path d="M250,716 L385,716 L385,0 L290,0 C255,80 160,160 45,200 L45,320 C125,295 195,255 250,205 Z" fill="currentColor"/></svg>5</div>
<div style="left:152.50px;top:517.80px;width:769.50px;height:18.10px;background:#DDC35E"></div>
<div class="m" style="left:152.50px;top:517.80px;width:23.00px;height:18.1px"><span>6</span></div>
<div class="n" style="left:175.50px;top:517.80px;width:19.60px;height:18.1px;color:#CC5A22;">6</div>
<div class="nm b" style="left:371.50px;top:517.80px;width:100.00px;height:18.1px"><span>JULIANO</span></div>
<div class="n" style="left:471.50px;top:517.80px;width:20.00px;height:18.1px;color:#CC5A22"><svg class="g1" viewBox="0 0 556 716" preserveAspectRatio="none"><path d="M250,716 L385,716 L385,0 L290,0 C255,80 160,160 45,200 L45,320 C125,295 195,255 250,205 Z" fill="currentColor"/></svg></div>
<div class="x" style="left:491.50px;top:517.80px;width:17.00px;height:18.1px;color:#CC5A22">x</div>
<div class="n" style="left:508.50px;top:517.80px;width:19.00px;height:18.1px;color:#CC5A22">0</div>
<div class="nm r" style="left:527.50px;top:517.80px;width:100.00px;height:18.1px"><span>MARCELO SILVA</span></div>
<div class="n" style="left:627.50px;top:517.80px;width:19.65px;height:18.1px;color:#CC5A22">0</div>
<div class="nm b" style="left:824.00px;top:517.80px;width:98.00px;height:18.1px"><span>PAULO SÉRGIO</span></div>
<div class="nok" style="left:922.00px;top:517.80px;width:41.50px;height:18.1px"><svg class="g1" viewBox="0 0 556 716" preserveAspectRatio="none"><path d="M250,716 L385,716 L385,0 L290,0 C255,80 160,160 45,200 L45,320 C125,295 195,255 250,205 Z" fill="currentColor"/></svg>6</div>
<div style="left:152.50px;top:535.90px;width:769.50px;height:18.10px;background:#DDC35E"></div>
<div class="m" style="left:152.50px;top:535.90px;width:23.00px;height:18.1px"><span>7</span></div>
<div class="n" style="left:175.50px;top:535.90px;width:19.60px;height:18.1px;color:#CC5A22;"><svg class="g1" viewBox="0 0 556 716" preserveAspectRatio="none"><path d="M250,716 L385,716 L385,0 L290,0 C255,80 160,160 45,200 L45,320 C125,295 195,255 250,205 Z" fill="currentColor"/></svg><svg class="g1" viewBox="0 0 556 716" preserveAspectRatio="none"><path d="M250,716 L385,716 L385,0 L290,0 C255,80 160,160 45,200 L45,320 C125,295 195,255 250,205 Z" fill="currentColor"/></svg></div>
<div class="nm b" style="left:371.50px;top:535.90px;width:100.00px;height:18.1px"><span>BETO</span></div>
<div class="n" style="left:471.50px;top:535.90px;width:20.00px;height:18.1px;color:#CC5A22"><svg class="g1" viewBox="0 0 556 716" preserveAspectRatio="none"><path d="M250,716 L385,716 L385,0 L290,0 C255,80 160,160 45,200 L45,320 C125,295 195,255 250,205 Z" fill="currentColor"/></svg></div>
<div class="x" style="left:491.50px;top:535.90px;width:17.00px;height:18.1px;color:#CC5A22">x</div>
<div class="n" style="left:508.50px;top:535.90px;width:19.00px;height:18.1px;color:#CC5A22">3</div>
<div class="nm r" style="left:527.50px;top:535.90px;width:100.00px;height:18.1px"><span>PABLO</span></div>
<div class="n" style="left:627.50px;top:535.90px;width:19.65px;height:18.1px;color:#CC5A22">8</div>
<div class="n" style="left:647.15px;top:535.90px;width:19.65px;height:18.1px;color:#CC5A22"><svg class="g1" viewBox="0 0 556 716" preserveAspectRatio="none"><path d="M250,716 L385,716 L385,0 L290,0 C255,80 160,160 45,200 L45,320 C125,295 195,255 250,205 Z" fill="currentColor"/></svg>0</div>
<div class="n" style="left:666.80px;top:535.90px;width:19.65px;height:18.1px;color:#CC5A22"><svg class="g1" viewBox="0 0 556 716" preserveAspectRatio="none"><path d="M250,716 L385,716 L385,0 L290,0 C255,80 160,160 45,200 L45,320 C125,295 195,255 250,205 Z" fill="currentColor"/></svg>0</div>
<div class="nm b" style="left:824.00px;top:535.90px;width:98.00px;height:18.1px"><span>VANDER</span></div>
<div class="nok" style="left:922.00px;top:535.90px;width:41.50px;height:18.1px"><svg class="g1" viewBox="0 0 556 716" preserveAspectRatio="none"><path d="M250,716 L385,716 L385,0 L290,0 C255,80 160,160 45,200 L45,320 C125,295 195,255 250,205 Z" fill="currentColor"/></svg>7</div>
<div style="left:152.50px;top:554.00px;width:769.50px;height:18.10px;background:#DDC35E"></div>
<div class="m" style="left:152.50px;top:554.00px;width:23.00px;height:18.1px"><span>8</span></div>
<div class="n" style="left:175.50px;top:554.00px;width:19.60px;height:18.1px;color:#CC5A22;">0</div>
<div class="nm b" style="left:371.50px;top:554.00px;width:100.00px;height:18.1px"><span>FERNANDO GER.</span></div>
<div class="n" style="left:471.50px;top:554.00px;width:20.00px;height:18.1px;color:#CC5A22">0</div>
<div class="x" style="left:491.50px;top:554.00px;width:17.00px;height:18.1px;color:#CC5A22">x</div>
<div class="n" style="left:508.50px;top:554.00px;width:19.00px;height:18.1px;color:#CC5A22"><svg class="g1" viewBox="0 0 556 716" preserveAspectRatio="none"><path d="M250,716 L385,716 L385,0 L290,0 C255,80 160,160 45,200 L45,320 C125,295 195,255 250,205 Z" fill="currentColor"/></svg></div>
<div class="nm r" style="left:527.50px;top:554.00px;width:100.00px;height:18.1px"><span>CONSTÂNCIO</span></div>
<div class="n" style="left:627.50px;top:554.00px;width:19.65px;height:18.1px;color:#CC5A22"><svg class="g1" viewBox="0 0 556 716" preserveAspectRatio="none"><path d="M250,716 L385,716 L385,0 L290,0 C255,80 160,160 45,200 L45,320 C125,295 195,255 250,205 Z" fill="currentColor"/></svg>0</div>
<div class="nm b" style="left:824.00px;top:554.00px;width:98.00px;height:18.1px"><span>JORGE DIAS</span></div>
<div class="nok" style="left:922.00px;top:554.00px;width:41.50px;height:18.1px"><svg class="g1" viewBox="0 0 556 716" preserveAspectRatio="none"><path d="M250,716 L385,716 L385,0 L290,0 C255,80 160,160 45,200 L45,320 C125,295 195,255 250,205 Z" fill="currentColor"/></svg>8</div>
<div style="left:152.50px;top:572.10px;width:769.50px;height:18.10px;background:#C6C6C6"></div>
<div class="m" style="left:152.50px;top:572.10px;width:23.00px;height:18.1px"><span><svg class="g1" viewBox="0 0 556 716" preserveAspectRatio="none"><path d="M250,716 L385,716 L385,0 L290,0 C255,80 160,160 45,200 L45,320 C125,295 195,255 250,205 Z" fill="currentColor"/></svg></span></div>
<div class="n" style="left:175.50px;top:572.10px;width:19.60px;height:18.1px;color:#D43A40;"><svg class="g1" viewBox="0 0 556 716" preserveAspectRatio="none"><path d="M250,716 L385,716 L385,0 L290,0 C255,80 160,160 45,200 L45,320 C125,295 195,255 250,205 Z" fill="currentColor"/></svg><svg class="g1" viewBox="0 0 556 716" preserveAspectRatio="none"><path d="M250,716 L385,716 L385,0 L290,0 C255,80 160,160 45,200 L45,320 C125,295 195,255 250,205 Z" fill="currentColor"/></svg></div>
<div class="n" style="left:195.10px;top:572.10px;width:19.60px;height:18.1px;color:#D43A40;"><svg class="g1" viewBox="0 0 556 716" preserveAspectRatio="none"><path d="M250,716 L385,716 L385,0 L290,0 C255,80 160,160 45,200 L45,320 C125,295 195,255 250,205 Z" fill="currentColor"/></svg>7</div>
<div class="n" style="left:214.70px;top:572.10px;width:19.60px;height:18.1px;color:#D43A40;">7</div>
<div class="nm b" style="left:371.50px;top:572.10px;width:100.00px;height:18.1px"><span>THIAGO</span></div>
<div class="n" style="left:471.50px;top:572.10px;width:20.00px;height:18.1px;color:#D43A40">3</div>
<div class="x" style="left:491.50px;top:572.10px;width:17.00px;height:18.1px;color:#D43A40">x</div>
<div class="n" style="left:508.50px;top:572.10px;width:19.00px;height:18.1px;color:#D43A40"><svg class="g1" viewBox="0 0 556 716" preserveAspectRatio="none"><path d="M250,716 L385,716 L385,0 L290,0 C255,80 160,160 45,200 L45,320 C125,295 195,255 250,205 Z" fill="currentColor"/></svg></div>
<div class="nm r" style="left:527.50px;top:572.10px;width:100.00px;height:18.1px"><span>JEAN BUARQUE</span></div>
<div class="n" style="left:627.50px;top:572.10px;width:19.65px;height:18.1px;color:#D43A40"><svg class="g1" viewBox="0 0 556 716" preserveAspectRatio="none"><path d="M250,716 L385,716 L385,0 L290,0 C255,80 160,160 45,200 L45,320 C125,295 195,255 250,205 Z" fill="currentColor"/></svg>0</div>
<div class="nm b" style="left:824.00px;top:572.10px;width:98.00px;height:18.1px"><span>MARCELO FERREIRA</span></div>
<div class="nok" style="left:922.00px;top:572.10px;width:41.50px;height:18.1px"><svg class="g1" viewBox="0 0 556 716" preserveAspectRatio="none"><path d="M250,716 L385,716 L385,0 L290,0 C255,80 160,160 45,200 L45,320 C125,295 195,255 250,205 Z" fill="currentColor"/></svg>9</div>
<div style="left:152.50px;top:590.20px;width:769.50px;height:18.10px;background:#C6C6C6"></div>
<div class="m" style="left:152.50px;top:590.20px;width:23.00px;height:18.1px"><span>2</span></div>
<div class="n" style="left:175.50px;top:590.20px;width:19.60px;height:18.1px;color:#D43A40;"><svg class="g1" viewBox="0 0 556 716" preserveAspectRatio="none"><path d="M250,716 L385,716 L385,0 L290,0 C255,80 160,160 45,200 L45,320 C125,295 195,255 250,205 Z" fill="currentColor"/></svg><svg class="g1" viewBox="0 0 556 716" preserveAspectRatio="none"><path d="M250,716 L385,716 L385,0 L290,0 C255,80 160,160 45,200 L45,320 C125,295 195,255 250,205 Z" fill="currentColor"/></svg></div>
<div class="nm b" style="left:371.50px;top:590.20px;width:100.00px;height:18.1px"><span>PAULO CÉSAR</span></div>
<div class="n" style="left:471.50px;top:590.20px;width:20.00px;height:18.1px;color:#D43A40"><svg class="g1" viewBox="0 0 556 716" preserveAspectRatio="none"><path d="M250,716 L385,716 L385,0 L290,0 C255,80 160,160 45,200 L45,320 C125,295 195,255 250,205 Z" fill="currentColor"/></svg></div>
<div class="x" style="left:491.50px;top:590.20px;width:17.00px;height:18.1px;color:#D43A40">x</div>
<div class="n" style="left:508.50px;top:590.20px;width:19.00px;height:18.1px;color:#D43A40">0</div>
<div class="nm r" style="left:527.50px;top:590.20px;width:100.00px;height:18.1px"><span>MÁRCIO GOMES</span></div>
<div class="n" style="left:627.50px;top:590.20px;width:19.65px;height:18.1px;color:#D43A40">0</div>
<div class="nm b" style="left:824.00px;top:590.20px;width:98.00px;height:18.1px"><span>RAFAEL PENA</span></div>
<div class="nok" style="left:922.00px;top:590.20px;width:41.50px;height:18.1px">20</div>
<div style="left:152.50px;top:608.30px;width:769.50px;height:18.10px;background:#C6C6C6"></div>
<div class="m" style="left:152.50px;top:608.30px;width:23.00px;height:18.1px"><span>3</span></div>
<div class="n" style="left:175.50px;top:608.30px;width:19.60px;height:18.1px;color:#D43A40;">6</div>
<div class="n" style="left:195.10px;top:608.30px;width:19.60px;height:18.1px;color:#D43A40;">9</div>
<div class="nm b" style="left:371.50px;top:608.30px;width:100.00px;height:18.1px"><span>FILIPE</span></div>
<div class="n" style="left:471.50px;top:608.30px;width:20.00px;height:18.1px;color:#D43A40">2</div>
<div class="x" style="left:491.50px;top:608.30px;width:17.00px;height:18.1px;color:#D43A40">x</div>
<div class="n" style="left:508.50px;top:608.30px;width:19.00px;height:18.1px;color:#D43A40">0</div>
<div class="nm r" style="left:527.50px;top:608.30px;width:100.00px;height:18.1px"><span>BRUNO CALINÇANE</span></div>
<div class="n" style="left:627.50px;top:608.30px;width:19.65px;height:18.1px;color:#D43A40">0</div>
<div class="nm b" style="left:824.00px;top:608.30px;width:98.00px;height:18.1px"><span>ALFREDO</span></div>
<div class="nok" style="left:922.00px;top:608.30px;width:41.50px;height:18.1px">2<svg class="g1" viewBox="0 0 556 716" preserveAspectRatio="none"><path d="M250,716 L385,716 L385,0 L290,0 C255,80 160,160 45,200 L45,320 C125,295 195,255 250,205 Z" fill="currentColor"/></svg></div>
<div style="left:152.50px;top:626.40px;width:769.50px;height:18.10px;background:#C6C6C6"></div>
<div class="m" style="left:152.50px;top:626.40px;width:23.00px;height:18.1px"><span>4</span></div>
<div class="n" style="left:175.50px;top:626.40px;width:19.60px;height:18.1px;color:#D43A40;">0</div>
<div class="nm b" style="left:371.50px;top:626.40px;width:100.00px;height:18.1px"><span>FABIANO</span></div>
<div class="n" style="left:471.50px;top:626.40px;width:20.00px;height:18.1px;color:#D43A40">0</div>
<div class="x" style="left:491.50px;top:626.40px;width:17.00px;height:18.1px;color:#D43A40">x</div>
<div class="n" style="left:508.50px;top:626.40px;width:19.00px;height:18.1px;color:#D43A40">0</div>
<div class="nm r" style="left:527.50px;top:626.40px;width:100.00px;height:18.1px"><span>JUCÃO</span></div>
<div class="n" style="left:627.50px;top:626.40px;width:19.65px;height:18.1px;color:#D43A40">0</div>
<div class="nm b" style="left:824.00px;top:626.40px;width:98.00px;height:18.1px"><span>MARQUINHOS</span></div>
<div class="nok" style="left:922.00px;top:626.40px;width:41.50px;height:18.1px">22</div>
<div style="left:151.60px;top:65.90px;width:1.80px;height:17.50px;background:#F2F8E0"></div>
<div style="left:174.60px;top:65.90px;width:1.80px;height:17.50px;background:#F2F8E0"></div>
<div style="left:194.20px;top:65.90px;width:1.80px;height:17.50px;background:#F2F8E0"></div>
<div style="left:213.80px;top:65.90px;width:1.80px;height:17.50px;background:#F2F8E0"></div>
<div style="left:233.40px;top:65.90px;width:1.80px;height:17.50px;background:#F2F8E0"></div>
<div style="left:253.00px;top:65.90px;width:1.80px;height:17.50px;background:#F2F8E0"></div>
<div style="left:272.60px;top:65.90px;width:1.80px;height:17.50px;background:#F2F8E0"></div>
<div style="left:292.20px;top:65.90px;width:1.80px;height:17.50px;background:#F2F8E0"></div>
<div style="left:311.80px;top:65.90px;width:1.80px;height:17.50px;background:#F2F8E0"></div>
<div style="left:331.40px;top:65.90px;width:1.80px;height:17.50px;background:#F2F8E0"></div>
<div style="left:351.00px;top:65.90px;width:1.80px;height:17.50px;background:#F2F8E0"></div>
<div style="left:370.60px;top:65.90px;width:1.80px;height:17.50px;background:#F2F8E0"></div>
<div style="left:470.60px;top:65.90px;width:1.80px;height:17.50px;background:#F2F8E0"></div>
<div style="left:490.60px;top:65.90px;width:1.80px;height:17.50px;background:#F2F8E0"></div>
<div style="left:507.60px;top:65.90px;width:1.80px;height:17.50px;background:#F2F8E0"></div>
<div style="left:526.60px;top:65.90px;width:1.80px;height:17.50px;background:#F2F8E0"></div>
<div style="left:626.60px;top:65.90px;width:1.80px;height:17.50px;background:#F2F8E0"></div>
<div style="left:646.25px;top:65.90px;width:1.80px;height:17.50px;background:#F2F8E0"></div>
<div style="left:665.90px;top:65.90px;width:1.80px;height:17.50px;background:#F2F8E0"></div>
<div style="left:685.55px;top:65.90px;width:1.80px;height:17.50px;background:#F2F8E0"></div>
<div style="left:705.20px;top:65.90px;width:1.80px;height:17.50px;background:#F2F8E0"></div>
<div style="left:724.85px;top:65.90px;width:1.80px;height:17.50px;background:#F2F8E0"></div>
<div style="left:744.50px;top:65.90px;width:1.80px;height:17.50px;background:#F2F8E0"></div>
<div style="left:764.15px;top:65.90px;width:1.80px;height:17.50px;background:#F2F8E0"></div>
<div style="left:783.80px;top:65.90px;width:1.80px;height:17.50px;background:#F2F8E0"></div>
<div style="left:803.45px;top:65.90px;width:1.80px;height:17.50px;background:#F2F8E0"></div>
<div style="left:823.10px;top:65.90px;width:1.80px;height:17.50px;background:#F2F8E0"></div>
<div style="left:152.50px;top:82.50px;width:769.50px;height:1.80px;background:#F2F8E0"></div>
<div style="left:151.60px;top:83.40px;width:1.80px;height:18.10px;background:#F2F8E0"></div>
<div style="left:174.60px;top:83.40px;width:1.80px;height:18.10px;background:#F2F8E0"></div>
<div style="left:194.20px;top:83.40px;width:1.80px;height:18.10px;background:#F2F8E0"></div>
<div style="left:213.80px;top:83.40px;width:1.80px;height:18.10px;background:#F2F8E0"></div>
<div style="left:233.40px;top:83.40px;width:1.80px;height:18.10px;background:#F2F8E0"></div>
<div style="left:253.00px;top:83.40px;width:1.80px;height:18.10px;background:#F2F8E0"></div>
<div style="left:272.60px;top:83.40px;width:1.80px;height:18.10px;background:#F2F8E0"></div>
<div style="left:292.20px;top:83.40px;width:1.80px;height:18.10px;background:#F2F8E0"></div>
<div style="left:311.80px;top:83.40px;width:1.80px;height:18.10px;background:#F2F8E0"></div>
<div style="left:331.40px;top:83.40px;width:1.80px;height:18.10px;background:#F2F8E0"></div>
<div style="left:351.00px;top:83.40px;width:1.80px;height:18.10px;background:#F2F8E0"></div>
<div style="left:370.60px;top:83.40px;width:1.80px;height:18.10px;background:#F2F8E0"></div>
<div style="left:470.60px;top:83.40px;width:1.80px;height:18.10px;background:#F2F8E0"></div>
<div style="left:490.60px;top:83.40px;width:1.80px;height:18.10px;background:#F2F8E0"></div>
<div style="left:507.60px;top:83.40px;width:1.80px;height:18.10px;background:#F2F8E0"></div>
<div style="left:526.60px;top:83.40px;width:1.80px;height:18.10px;background:#F2F8E0"></div>
<div style="left:626.60px;top:83.40px;width:1.80px;height:18.10px;background:#F2F8E0"></div>
<div style="left:646.25px;top:83.40px;width:1.80px;height:18.10px;background:#F2F8E0"></div>
<div style="left:665.90px;top:83.40px;width:1.80px;height:18.10px;background:#F2F8E0"></div>
<div style="left:685.55px;top:83.40px;width:1.80px;height:18.10px;background:#F2F8E0"></div>
<div style="left:705.20px;top:83.40px;width:1.80px;height:18.10px;background:#F2F8E0"></div>
<div style="left:724.85px;top:83.40px;width:1.80px;height:18.10px;background:#F2F8E0"></div>
<div style="left:744.50px;top:83.40px;width:1.80px;height:18.10px;background:#F2F8E0"></div>
<div style="left:764.15px;top:83.40px;width:1.80px;height:18.10px;background:#F2F8E0"></div>
<div style="left:783.80px;top:83.40px;width:1.80px;height:18.10px;background:#F2F8E0"></div>
<div style="left:803.45px;top:83.40px;width:1.80px;height:18.10px;background:#F2F8E0"></div>
<div style="left:823.10px;top:83.40px;width:1.80px;height:18.10px;background:#F2F8E0"></div>
<div style="left:152.50px;top:100.60px;width:769.50px;height:1.80px;background:#F2F8E0"></div>
<div style="left:151.60px;top:101.50px;width:1.80px;height:18.10px;background:#F2F8E0"></div>
<div style="left:174.60px;top:101.50px;width:1.80px;height:18.10px;background:#F2F8E0"></div>
<div style="left:194.20px;top:101.50px;width:1.80px;height:18.10px;background:#F2F8E0"></div>
<div style="left:213.80px;top:101.50px;width:1.80px;height:18.10px;background:#F2F8E0"></div>
<div style="left:233.40px;top:101.50px;width:1.80px;height:18.10px;background:#F2F8E0"></div>
<div style="left:253.00px;top:101.50px;width:1.80px;height:18.10px;background:#F2F8E0"></div>
<div style="left:272.60px;top:101.50px;width:1.80px;height:18.10px;background:#F2F8E0"></div>
<div style="left:292.20px;top:101.50px;width:1.80px;height:18.10px;background:#F2F8E0"></div>
<div style="left:311.80px;top:101.50px;width:1.80px;height:18.10px;background:#F2F8E0"></div>
<div style="left:331.40px;top:101.50px;width:1.80px;height:18.10px;background:#F2F8E0"></div>
<div style="left:351.00px;top:101.50px;width:1.80px;height:18.10px;background:#F2F8E0"></div>
<div style="left:370.60px;top:101.50px;width:1.80px;height:18.10px;background:#F2F8E0"></div>
<div style="left:470.60px;top:101.50px;width:1.80px;height:18.10px;background:#F2F8E0"></div>
<div style="left:490.60px;top:101.50px;width:1.80px;height:18.10px;background:#F2F8E0"></div>
<div style="left:507.60px;top:101.50px;width:1.80px;height:18.10px;background:#F2F8E0"></div>
<div style="left:526.60px;top:101.50px;width:1.80px;height:18.10px;background:#F2F8E0"></div>
<div style="left:626.60px;top:101.50px;width:1.80px;height:18.10px;background:#F2F8E0"></div>
<div style="left:646.25px;top:101.50px;width:1.80px;height:18.10px;background:#F2F8E0"></div>
<div style="left:665.90px;top:101.50px;width:1.80px;height:18.10px;background:#F2F8E0"></div>
<div style="left:685.55px;top:101.50px;width:1.80px;height:18.10px;background:#F2F8E0"></div>
<div style="left:705.20px;top:101.50px;width:1.80px;height:18.10px;background:#F2F8E0"></div>
<div style="left:724.85px;top:101.50px;width:1.80px;height:18.10px;background:#F2F8E0"></div>
<div style="left:744.50px;top:101.50px;width:1.80px;height:18.10px;background:#F2F8E0"></div>
<div style="left:764.15px;top:101.50px;width:1.80px;height:18.10px;background:#F2F8E0"></div>
<div style="left:783.80px;top:101.50px;width:1.80px;height:18.10px;background:#F2F8E0"></div>
<div style="left:803.45px;top:101.50px;width:1.80px;height:18.10px;background:#F2F8E0"></div>
<div style="left:823.10px;top:101.50px;width:1.80px;height:18.10px;background:#F2F8E0"></div>
<div style="left:152.50px;top:118.70px;width:769.50px;height:1.80px;background:#F2F8E0"></div>
<div style="left:151.60px;top:119.60px;width:1.80px;height:18.10px;background:#F2F8E0"></div>
<div style="left:174.60px;top:119.60px;width:1.80px;height:18.10px;background:#F2F8E0"></div>
<div style="left:194.20px;top:119.60px;width:1.80px;height:18.10px;background:#F2F8E0"></div>
<div style="left:213.80px;top:119.60px;width:1.80px;height:18.10px;background:#F2F8E0"></div>
<div style="left:233.40px;top:119.60px;width:1.80px;height:18.10px;background:#F2F8E0"></div>
<div style="left:253.00px;top:119.60px;width:1.80px;height:18.10px;background:#F2F8E0"></div>
<div style="left:272.60px;top:119.60px;width:1.80px;height:18.10px;background:#F2F8E0"></div>
<div style="left:292.20px;top:119.60px;width:1.80px;height:18.10px;background:#F2F8E0"></div>
<div style="left:311.80px;top:119.60px;width:1.80px;height:18.10px;background:#F2F8E0"></div>
<div style="left:331.40px;top:119.60px;width:1.80px;height:18.10px;background:#F2F8E0"></div>
<div style="left:351.00px;top:119.60px;width:1.80px;height:18.10px;background:#F2F8E0"></div>
<div style="left:370.60px;top:119.60px;width:1.80px;height:18.10px;background:#F2F8E0"></div>
<div style="left:470.60px;top:119.60px;width:1.80px;height:18.10px;background:#F2F8E0"></div>
<div style="left:490.60px;top:119.60px;width:1.80px;height:18.10px;background:#F2F8E0"></div>
<div style="left:507.60px;top:119.60px;width:1.80px;height:18.10px;background:#F2F8E0"></div>
<div style="left:526.60px;top:119.60px;width:1.80px;height:18.10px;background:#F2F8E0"></div>
<div style="left:626.60px;top:119.60px;width:1.80px;height:18.10px;background:#F2F8E0"></div>
<div style="left:646.25px;top:119.60px;width:1.80px;height:18.10px;background:#F2F8E0"></div>
<div style="left:665.90px;top:119.60px;width:1.80px;height:18.10px;background:#F2F8E0"></div>
<div style="left:685.55px;top:119.60px;width:1.80px;height:18.10px;background:#F2F8E0"></div>
<div style="left:705.20px;top:119.60px;width:1.80px;height:18.10px;background:#F2F8E0"></div>
<div style="left:724.85px;top:119.60px;width:1.80px;height:18.10px;background:#F2F8E0"></div>
<div style="left:744.50px;top:119.60px;width:1.80px;height:18.10px;background:#F2F8E0"></div>
<div style="left:764.15px;top:119.60px;width:1.80px;height:18.10px;background:#F2F8E0"></div>
<div style="left:783.80px;top:119.60px;width:1.80px;height:18.10px;background:#F2F8E0"></div>
<div style="left:803.45px;top:119.60px;width:1.80px;height:18.10px;background:#F2F8E0"></div>
<div style="left:823.10px;top:119.60px;width:1.80px;height:18.10px;background:#F2F8E0"></div>
<div style="left:152.50px;top:136.80px;width:769.50px;height:1.80px;background:#F2F8E0"></div>
<div style="left:151.60px;top:210.10px;width:1.80px;height:18.10px;background:#FFF6C8"></div>
<div style="left:174.60px;top:210.10px;width:1.80px;height:18.10px;background:#FFF6C8"></div>
<div style="left:194.20px;top:210.10px;width:1.80px;height:18.10px;background:#FFF6C8"></div>
<div style="left:213.80px;top:210.10px;width:1.80px;height:18.10px;background:#FFF6C8"></div>
<div style="left:233.40px;top:210.10px;width:1.80px;height:18.10px;background:#FFF6C8"></div>
<div style="left:253.00px;top:210.10px;width:1.80px;height:18.10px;background:#FFF6C8"></div>
<div style="left:272.60px;top:210.10px;width:1.80px;height:18.10px;background:#FFF6C8"></div>
<div style="left:292.20px;top:210.10px;width:1.80px;height:18.10px;background:#FFF6C8"></div>
<div style="left:311.80px;top:210.10px;width:1.80px;height:18.10px;background:#FFF6C8"></div>
<div style="left:331.40px;top:210.10px;width:1.80px;height:18.10px;background:#FFF6C8"></div>
<div style="left:351.00px;top:210.10px;width:1.80px;height:18.10px;background:#FFF6C8"></div>
<div style="left:370.60px;top:210.10px;width:1.80px;height:18.10px;background:#FFF6C8"></div>
<div style="left:470.60px;top:210.10px;width:1.80px;height:18.10px;background:#FFF6C8"></div>
<div style="left:490.60px;top:210.10px;width:1.80px;height:18.10px;background:#FFF6C8"></div>
<div style="left:507.60px;top:210.10px;width:1.80px;height:18.10px;background:#FFF6C8"></div>
<div style="left:526.60px;top:210.10px;width:1.80px;height:18.10px;background:#FFF6C8"></div>
<div style="left:626.60px;top:210.10px;width:1.80px;height:18.10px;background:#FFF6C8"></div>
<div style="left:646.25px;top:210.10px;width:1.80px;height:18.10px;background:#FFF6C8"></div>
<div style="left:665.90px;top:210.10px;width:1.80px;height:18.10px;background:#FFF6C8"></div>
<div style="left:685.55px;top:210.10px;width:1.80px;height:18.10px;background:#FFF6C8"></div>
<div style="left:705.20px;top:210.10px;width:1.80px;height:18.10px;background:#FFF6C8"></div>
<div style="left:724.85px;top:210.10px;width:1.80px;height:18.10px;background:#FFF6C8"></div>
<div style="left:744.50px;top:210.10px;width:1.80px;height:18.10px;background:#FFF6C8"></div>
<div style="left:764.15px;top:210.10px;width:1.80px;height:18.10px;background:#FFF6C8"></div>
<div style="left:783.80px;top:210.10px;width:1.80px;height:18.10px;background:#FFF6C8"></div>
<div style="left:803.45px;top:210.10px;width:1.80px;height:18.10px;background:#FFF6C8"></div>
<div style="left:823.10px;top:210.10px;width:1.80px;height:18.10px;background:#FFF6C8"></div>
<div style="left:152.50px;top:227.30px;width:769.50px;height:1.80px;background:#FFF6C8"></div>
<div style="left:152.50px;top:209.10px;width:769.50px;height:2.00px;background:#FFF6C8"></div>
<div style="left:151.60px;top:228.20px;width:1.80px;height:18.10px;background:#FFF6C8"></div>
<div style="left:174.60px;top:228.20px;width:1.80px;height:18.10px;background:#FFF6C8"></div>
<div style="left:194.20px;top:228.20px;width:1.80px;height:18.10px;background:#FFF6C8"></div>
<div style="left:213.80px;top:228.20px;width:1.80px;height:18.10px;background:#FFF6C8"></div>
<div style="left:233.40px;top:228.20px;width:1.80px;height:18.10px;background:#FFF6C8"></div>
<div style="left:253.00px;top:228.20px;width:1.80px;height:18.10px;background:#FFF6C8"></div>
<div style="left:272.60px;top:228.20px;width:1.80px;height:18.10px;background:#FFF6C8"></div>
<div style="left:292.20px;top:228.20px;width:1.80px;height:18.10px;background:#FFF6C8"></div>
<div style="left:311.80px;top:228.20px;width:1.80px;height:18.10px;background:#FFF6C8"></div>
<div style="left:331.40px;top:228.20px;width:1.80px;height:18.10px;background:#FFF6C8"></div>
<div style="left:351.00px;top:228.20px;width:1.80px;height:18.10px;background:#FFF6C8"></div>
<div style="left:370.60px;top:228.20px;width:1.80px;height:18.10px;background:#FFF6C8"></div>
<div style="left:470.60px;top:228.20px;width:1.80px;height:18.10px;background:#FFF6C8"></div>
<div style="left:490.60px;top:228.20px;width:1.80px;height:18.10px;background:#FFF6C8"></div>
<div style="left:507.60px;top:228.20px;width:1.80px;height:18.10px;background:#FFF6C8"></div>
<div style="left:526.60px;top:228.20px;width:1.80px;height:18.10px;background:#FFF6C8"></div>
<div style="left:626.60px;top:228.20px;width:1.80px;height:18.10px;background:#FFF6C8"></div>
<div style="left:646.25px;top:228.20px;width:1.80px;height:18.10px;background:#FFF6C8"></div>
<div style="left:665.90px;top:228.20px;width:1.80px;height:18.10px;background:#FFF6C8"></div>
<div style="left:685.55px;top:228.20px;width:1.80px;height:18.10px;background:#FFF6C8"></div>
<div style="left:705.20px;top:228.20px;width:1.80px;height:18.10px;background:#FFF6C8"></div>
<div style="left:724.85px;top:228.20px;width:1.80px;height:18.10px;background:#FFF6C8"></div>
<div style="left:744.50px;top:228.20px;width:1.80px;height:18.10px;background:#FFF6C8"></div>
<div style="left:764.15px;top:228.20px;width:1.80px;height:18.10px;background:#FFF6C8"></div>
<div style="left:783.80px;top:228.20px;width:1.80px;height:18.10px;background:#FFF6C8"></div>
<div style="left:803.45px;top:228.20px;width:1.80px;height:18.10px;background:#FFF6C8"></div>
<div style="left:823.10px;top:228.20px;width:1.80px;height:18.10px;background:#FFF6C8"></div>
<div style="left:152.50px;top:245.40px;width:769.50px;height:1.80px;background:#FFF6C8"></div>
<div style="left:151.60px;top:246.30px;width:1.80px;height:18.10px;background:#FFF6C8"></div>
<div style="left:174.60px;top:246.30px;width:1.80px;height:18.10px;background:#FFF6C8"></div>
<div style="left:194.20px;top:246.30px;width:1.80px;height:18.10px;background:#FFF6C8"></div>
<div style="left:213.80px;top:246.30px;width:1.80px;height:18.10px;background:#FFF6C8"></div>
<div style="left:233.40px;top:246.30px;width:1.80px;height:18.10px;background:#FFF6C8"></div>
<div style="left:253.00px;top:246.30px;width:1.80px;height:18.10px;background:#FFF6C8"></div>
<div style="left:272.60px;top:246.30px;width:1.80px;height:18.10px;background:#FFF6C8"></div>
<div style="left:292.20px;top:246.30px;width:1.80px;height:18.10px;background:#FFF6C8"></div>
<div style="left:311.80px;top:246.30px;width:1.80px;height:18.10px;background:#FFF6C8"></div>
<div style="left:331.40px;top:246.30px;width:1.80px;height:18.10px;background:#FFF6C8"></div>
<div style="left:351.00px;top:246.30px;width:1.80px;height:18.10px;background:#FFF6C8"></div>
<div style="left:370.60px;top:246.30px;width:1.80px;height:18.10px;background:#FFF6C8"></div>
<div style="left:470.60px;top:246.30px;width:1.80px;height:18.10px;background:#FFF6C8"></div>
<div style="left:490.60px;top:246.30px;width:1.80px;height:18.10px;background:#FFF6C8"></div>
<div style="left:507.60px;top:246.30px;width:1.80px;height:18.10px;background:#FFF6C8"></div>
<div style="left:526.60px;top:246.30px;width:1.80px;height:18.10px;background:#FFF6C8"></div>
<div style="left:626.60px;top:246.30px;width:1.80px;height:18.10px;background:#FFF6C8"></div>
<div style="left:646.25px;top:246.30px;width:1.80px;height:18.10px;background:#FFF6C8"></div>
<div style="left:665.90px;top:246.30px;width:1.80px;height:18.10px;background:#FFF6C8"></div>
<div style="left:685.55px;top:246.30px;width:1.80px;height:18.10px;background:#FFF6C8"></div>
<div style="left:705.20px;top:246.30px;width:1.80px;height:18.10px;background:#FFF6C8"></div>
<div style="left:724.85px;top:246.30px;width:1.80px;height:18.10px;background:#FFF6C8"></div>
<div style="left:744.50px;top:246.30px;width:1.80px;height:18.10px;background:#FFF6C8"></div>
<div style="left:764.15px;top:246.30px;width:1.80px;height:18.10px;background:#FFF6C8"></div>
<div style="left:783.80px;top:246.30px;width:1.80px;height:18.10px;background:#FFF6C8"></div>
<div style="left:803.45px;top:246.30px;width:1.80px;height:18.10px;background:#FFF6C8"></div>
<div style="left:823.10px;top:246.30px;width:1.80px;height:18.10px;background:#FFF6C8"></div>
<div style="left:152.50px;top:263.50px;width:769.50px;height:1.80px;background:#FFF6C8"></div>
<div style="left:151.60px;top:264.40px;width:1.80px;height:18.10px;background:#FFF6C8"></div>
<div style="left:174.60px;top:264.40px;width:1.80px;height:18.10px;background:#FFF6C8"></div>
<div style="left:194.20px;top:264.40px;width:1.80px;height:18.10px;background:#FFF6C8"></div>
<div style="left:213.80px;top:264.40px;width:1.80px;height:18.10px;background:#FFF6C8"></div>
<div style="left:233.40px;top:264.40px;width:1.80px;height:18.10px;background:#FFF6C8"></div>
<div style="left:253.00px;top:264.40px;width:1.80px;height:18.10px;background:#FFF6C8"></div>
<div style="left:272.60px;top:264.40px;width:1.80px;height:18.10px;background:#FFF6C8"></div>
<div style="left:292.20px;top:264.40px;width:1.80px;height:18.10px;background:#FFF6C8"></div>
<div style="left:311.80px;top:264.40px;width:1.80px;height:18.10px;background:#FFF6C8"></div>
<div style="left:331.40px;top:264.40px;width:1.80px;height:18.10px;background:#FFF6C8"></div>
<div style="left:351.00px;top:264.40px;width:1.80px;height:18.10px;background:#FFF6C8"></div>
<div style="left:370.60px;top:264.40px;width:1.80px;height:18.10px;background:#FFF6C8"></div>
<div style="left:470.60px;top:264.40px;width:1.80px;height:18.10px;background:#FFF6C8"></div>
<div style="left:490.60px;top:264.40px;width:1.80px;height:18.10px;background:#FFF6C8"></div>
<div style="left:507.60px;top:264.40px;width:1.80px;height:18.10px;background:#FFF6C8"></div>
<div style="left:526.60px;top:264.40px;width:1.80px;height:18.10px;background:#FFF6C8"></div>
<div style="left:626.60px;top:264.40px;width:1.80px;height:18.10px;background:#FFF6C8"></div>
<div style="left:646.25px;top:264.40px;width:1.80px;height:18.10px;background:#FFF6C8"></div>
<div style="left:665.90px;top:264.40px;width:1.80px;height:18.10px;background:#FFF6C8"></div>
<div style="left:685.55px;top:264.40px;width:1.80px;height:18.10px;background:#FFF6C8"></div>
<div style="left:705.20px;top:264.40px;width:1.80px;height:18.10px;background:#FFF6C8"></div>
<div style="left:724.85px;top:264.40px;width:1.80px;height:18.10px;background:#FFF6C8"></div>
<div style="left:744.50px;top:264.40px;width:1.80px;height:18.10px;background:#FFF6C8"></div>
<div style="left:764.15px;top:264.40px;width:1.80px;height:18.10px;background:#FFF6C8"></div>
<div style="left:783.80px;top:264.40px;width:1.80px;height:18.10px;background:#FFF6C8"></div>
<div style="left:803.45px;top:264.40px;width:1.80px;height:18.10px;background:#FFF6C8"></div>
<div style="left:823.10px;top:264.40px;width:1.80px;height:18.10px;background:#FFF6C8"></div>
<div style="left:152.50px;top:281.60px;width:769.50px;height:1.80px;background:#FFF6C8"></div>
<div style="left:151.60px;top:282.50px;width:1.80px;height:18.10px;background:#FFF6C8"></div>
<div style="left:174.60px;top:282.50px;width:1.80px;height:18.10px;background:#FFF6C8"></div>
<div style="left:194.20px;top:282.50px;width:1.80px;height:18.10px;background:#FFF6C8"></div>
<div style="left:213.80px;top:282.50px;width:1.80px;height:18.10px;background:#FFF6C8"></div>
<div style="left:233.40px;top:282.50px;width:1.80px;height:18.10px;background:#FFF6C8"></div>
<div style="left:253.00px;top:282.50px;width:1.80px;height:18.10px;background:#FFF6C8"></div>
<div style="left:272.60px;top:282.50px;width:1.80px;height:18.10px;background:#FFF6C8"></div>
<div style="left:292.20px;top:282.50px;width:1.80px;height:18.10px;background:#FFF6C8"></div>
<div style="left:311.80px;top:282.50px;width:1.80px;height:18.10px;background:#FFF6C8"></div>
<div style="left:331.40px;top:282.50px;width:1.80px;height:18.10px;background:#FFF6C8"></div>
<div style="left:351.00px;top:282.50px;width:1.80px;height:18.10px;background:#FFF6C8"></div>
<div style="left:370.60px;top:282.50px;width:1.80px;height:18.10px;background:#FFF6C8"></div>
<div style="left:470.60px;top:282.50px;width:1.80px;height:18.10px;background:#FFF6C8"></div>
<div style="left:490.60px;top:282.50px;width:1.80px;height:18.10px;background:#FFF6C8"></div>
<div style="left:507.60px;top:282.50px;width:1.80px;height:18.10px;background:#FFF6C8"></div>
<div style="left:526.60px;top:282.50px;width:1.80px;height:18.10px;background:#FFF6C8"></div>
<div style="left:626.60px;top:282.50px;width:1.80px;height:18.10px;background:#FFF6C8"></div>
<div style="left:646.25px;top:282.50px;width:1.80px;height:18.10px;background:#FFF6C8"></div>
<div style="left:665.90px;top:282.50px;width:1.80px;height:18.10px;background:#FFF6C8"></div>
<div style="left:685.55px;top:282.50px;width:1.80px;height:18.10px;background:#FFF6C8"></div>
<div style="left:705.20px;top:282.50px;width:1.80px;height:18.10px;background:#FFF6C8"></div>
<div style="left:724.85px;top:282.50px;width:1.80px;height:18.10px;background:#FFF6C8"></div>
<div style="left:744.50px;top:282.50px;width:1.80px;height:18.10px;background:#FFF6C8"></div>
<div style="left:764.15px;top:282.50px;width:1.80px;height:18.10px;background:#FFF6C8"></div>
<div style="left:783.80px;top:282.50px;width:1.80px;height:18.10px;background:#FFF6C8"></div>
<div style="left:803.45px;top:282.50px;width:1.80px;height:18.10px;background:#FFF6C8"></div>
<div style="left:823.10px;top:282.50px;width:1.80px;height:18.10px;background:#FFF6C8"></div>
<div style="left:152.50px;top:299.70px;width:769.50px;height:1.80px;background:#FFF6C8"></div>
<div style="left:151.60px;top:300.60px;width:1.80px;height:18.10px;background:#FFF6C8"></div>
<div style="left:174.60px;top:300.60px;width:1.80px;height:18.10px;background:#FFF6C8"></div>
<div style="left:194.20px;top:300.60px;width:1.80px;height:18.10px;background:#FFF6C8"></div>
<div style="left:213.80px;top:300.60px;width:1.80px;height:18.10px;background:#FFF6C8"></div>
<div style="left:233.40px;top:300.60px;width:1.80px;height:18.10px;background:#FFF6C8"></div>
<div style="left:253.00px;top:300.60px;width:1.80px;height:18.10px;background:#FFF6C8"></div>
<div style="left:272.60px;top:300.60px;width:1.80px;height:18.10px;background:#FFF6C8"></div>
<div style="left:292.20px;top:300.60px;width:1.80px;height:18.10px;background:#FFF6C8"></div>
<div style="left:311.80px;top:300.60px;width:1.80px;height:18.10px;background:#FFF6C8"></div>
<div style="left:331.40px;top:300.60px;width:1.80px;height:18.10px;background:#FFF6C8"></div>
<div style="left:351.00px;top:300.60px;width:1.80px;height:18.10px;background:#FFF6C8"></div>
<div style="left:370.60px;top:300.60px;width:1.80px;height:18.10px;background:#FFF6C8"></div>
<div style="left:470.60px;top:300.60px;width:1.80px;height:18.10px;background:#FFF6C8"></div>
<div style="left:490.60px;top:300.60px;width:1.80px;height:18.10px;background:#FFF6C8"></div>
<div style="left:507.60px;top:300.60px;width:1.80px;height:18.10px;background:#FFF6C8"></div>
<div style="left:526.60px;top:300.60px;width:1.80px;height:18.10px;background:#FFF6C8"></div>
<div style="left:626.60px;top:300.60px;width:1.80px;height:18.10px;background:#FFF6C8"></div>
<div style="left:646.25px;top:300.60px;width:1.80px;height:18.10px;background:#FFF6C8"></div>
<div style="left:665.90px;top:300.60px;width:1.80px;height:18.10px;background:#FFF6C8"></div>
<div style="left:685.55px;top:300.60px;width:1.80px;height:18.10px;background:#FFF6C8"></div>
<div style="left:705.20px;top:300.60px;width:1.80px;height:18.10px;background:#FFF6C8"></div>
<div style="left:724.85px;top:300.60px;width:1.80px;height:18.10px;background:#FFF6C8"></div>
<div style="left:744.50px;top:300.60px;width:1.80px;height:18.10px;background:#FFF6C8"></div>
<div style="left:764.15px;top:300.60px;width:1.80px;height:18.10px;background:#FFF6C8"></div>
<div style="left:783.80px;top:300.60px;width:1.80px;height:18.10px;background:#FFF6C8"></div>
<div style="left:803.45px;top:300.60px;width:1.80px;height:18.10px;background:#FFF6C8"></div>
<div style="left:823.10px;top:300.60px;width:1.80px;height:18.10px;background:#FFF6C8"></div>
<div style="left:152.50px;top:317.80px;width:769.50px;height:1.80px;background:#FFF6C8"></div>
<div style="left:151.60px;top:318.70px;width:1.80px;height:18.10px;background:#FFF6C8"></div>
<div style="left:174.60px;top:318.70px;width:1.80px;height:18.10px;background:#FFF6C8"></div>
<div style="left:194.20px;top:318.70px;width:1.80px;height:18.10px;background:#FFF6C8"></div>
<div style="left:213.80px;top:318.70px;width:1.80px;height:18.10px;background:#FFF6C8"></div>
<div style="left:233.40px;top:318.70px;width:1.80px;height:18.10px;background:#FFF6C8"></div>
<div style="left:253.00px;top:318.70px;width:1.80px;height:18.10px;background:#FFF6C8"></div>
<div style="left:272.60px;top:318.70px;width:1.80px;height:18.10px;background:#FFF6C8"></div>
<div style="left:292.20px;top:318.70px;width:1.80px;height:18.10px;background:#FFF6C8"></div>
<div style="left:311.80px;top:318.70px;width:1.80px;height:18.10px;background:#FFF6C8"></div>
<div style="left:331.40px;top:318.70px;width:1.80px;height:18.10px;background:#FFF6C8"></div>
<div style="left:351.00px;top:318.70px;width:1.80px;height:18.10px;background:#FFF6C8"></div>
<div style="left:370.60px;top:318.70px;width:1.80px;height:18.10px;background:#FFF6C8"></div>
<div style="left:470.60px;top:318.70px;width:1.80px;height:18.10px;background:#FFF6C8"></div>
<div style="left:490.60px;top:318.70px;width:1.80px;height:18.10px;background:#FFF6C8"></div>
<div style="left:507.60px;top:318.70px;width:1.80px;height:18.10px;background:#FFF6C8"></div>
<div style="left:526.60px;top:318.70px;width:1.80px;height:18.10px;background:#FFF6C8"></div>
<div style="left:626.60px;top:318.70px;width:1.80px;height:18.10px;background:#FFF6C8"></div>
<div style="left:646.25px;top:318.70px;width:1.80px;height:18.10px;background:#FFF6C8"></div>
<div style="left:665.90px;top:318.70px;width:1.80px;height:18.10px;background:#FFF6C8"></div>
<div style="left:685.55px;top:318.70px;width:1.80px;height:18.10px;background:#FFF6C8"></div>
<div style="left:705.20px;top:318.70px;width:1.80px;height:18.10px;background:#FFF6C8"></div>
<div style="left:724.85px;top:318.70px;width:1.80px;height:18.10px;background:#FFF6C8"></div>
<div style="left:744.50px;top:318.70px;width:1.80px;height:18.10px;background:#FFF6C8"></div>
<div style="left:764.15px;top:318.70px;width:1.80px;height:18.10px;background:#FFF6C8"></div>
<div style="left:783.80px;top:318.70px;width:1.80px;height:18.10px;background:#FFF6C8"></div>
<div style="left:803.45px;top:318.70px;width:1.80px;height:18.10px;background:#FFF6C8"></div>
<div style="left:823.10px;top:318.70px;width:1.80px;height:18.10px;background:#FFF6C8"></div>
<div style="left:152.50px;top:335.90px;width:769.50px;height:1.80px;background:#FFF6C8"></div>
<div style="left:151.60px;top:336.80px;width:1.80px;height:18.10px;background:#FFF6C8"></div>
<div style="left:174.60px;top:336.80px;width:1.80px;height:18.10px;background:#FFF6C8"></div>
<div style="left:194.20px;top:336.80px;width:1.80px;height:18.10px;background:#FFF6C8"></div>
<div style="left:213.80px;top:336.80px;width:1.80px;height:18.10px;background:#FFF6C8"></div>
<div style="left:233.40px;top:336.80px;width:1.80px;height:18.10px;background:#FFF6C8"></div>
<div style="left:253.00px;top:336.80px;width:1.80px;height:18.10px;background:#FFF6C8"></div>
<div style="left:272.60px;top:336.80px;width:1.80px;height:18.10px;background:#FFF6C8"></div>
<div style="left:292.20px;top:336.80px;width:1.80px;height:18.10px;background:#FFF6C8"></div>
<div style="left:311.80px;top:336.80px;width:1.80px;height:18.10px;background:#FFF6C8"></div>
<div style="left:331.40px;top:336.80px;width:1.80px;height:18.10px;background:#FFF6C8"></div>
<div style="left:351.00px;top:336.80px;width:1.80px;height:18.10px;background:#FFF6C8"></div>
<div style="left:370.60px;top:336.80px;width:1.80px;height:18.10px;background:#FFF6C8"></div>
<div style="left:470.60px;top:336.80px;width:1.80px;height:18.10px;background:#FFF6C8"></div>
<div style="left:490.60px;top:336.80px;width:1.80px;height:18.10px;background:#FFF6C8"></div>
<div style="left:507.60px;top:336.80px;width:1.80px;height:18.10px;background:#FFF6C8"></div>
<div style="left:526.60px;top:336.80px;width:1.80px;height:18.10px;background:#FFF6C8"></div>
<div style="left:626.60px;top:336.80px;width:1.80px;height:18.10px;background:#FFF6C8"></div>
<div style="left:646.25px;top:336.80px;width:1.80px;height:18.10px;background:#FFF6C8"></div>
<div style="left:665.90px;top:336.80px;width:1.80px;height:18.10px;background:#FFF6C8"></div>
<div style="left:685.55px;top:336.80px;width:1.80px;height:18.10px;background:#FFF6C8"></div>
<div style="left:705.20px;top:336.80px;width:1.80px;height:18.10px;background:#FFF6C8"></div>
<div style="left:724.85px;top:336.80px;width:1.80px;height:18.10px;background:#FFF6C8"></div>
<div style="left:744.50px;top:336.80px;width:1.80px;height:18.10px;background:#FFF6C8"></div>
<div style="left:764.15px;top:336.80px;width:1.80px;height:18.10px;background:#FFF6C8"></div>
<div style="left:783.80px;top:336.80px;width:1.80px;height:18.10px;background:#FFF6C8"></div>
<div style="left:803.45px;top:336.80px;width:1.80px;height:18.10px;background:#FFF6C8"></div>
<div style="left:823.10px;top:336.80px;width:1.80px;height:18.10px;background:#FFF6C8"></div>
<div style="left:152.50px;top:354.00px;width:769.50px;height:1.80px;background:#FFF6C8"></div>
<div style="left:151.60px;top:354.90px;width:1.80px;height:18.10px;background:#FFF2D6"></div>
<div style="left:174.60px;top:354.90px;width:1.80px;height:18.10px;background:#FFF2D6"></div>
<div style="left:194.20px;top:354.90px;width:1.80px;height:18.10px;background:#FFF2D6"></div>
<div style="left:213.80px;top:354.90px;width:1.80px;height:18.10px;background:#FFF2D6"></div>
<div style="left:233.40px;top:354.90px;width:1.80px;height:18.10px;background:#FFF2D6"></div>
<div style="left:253.00px;top:354.90px;width:1.80px;height:18.10px;background:#FFF2D6"></div>
<div style="left:272.60px;top:354.90px;width:1.80px;height:18.10px;background:#FFF2D6"></div>
<div style="left:292.20px;top:354.90px;width:1.80px;height:18.10px;background:#FFF2D6"></div>
<div style="left:311.80px;top:354.90px;width:1.80px;height:18.10px;background:#FFF2D6"></div>
<div style="left:331.40px;top:354.90px;width:1.80px;height:18.10px;background:#FFF2D6"></div>
<div style="left:351.00px;top:354.90px;width:1.80px;height:18.10px;background:#FFF2D6"></div>
<div style="left:370.60px;top:354.90px;width:1.80px;height:18.10px;background:#FFF2D6"></div>
<div style="left:470.60px;top:354.90px;width:1.80px;height:18.10px;background:#FFF2D6"></div>
<div style="left:490.60px;top:354.90px;width:1.80px;height:18.10px;background:#FFF2D6"></div>
<div style="left:507.60px;top:354.90px;width:1.80px;height:18.10px;background:#FFF2D6"></div>
<div style="left:526.60px;top:354.90px;width:1.80px;height:18.10px;background:#FFF2D6"></div>
<div style="left:626.60px;top:354.90px;width:1.80px;height:18.10px;background:#FFF2D6"></div>
<div style="left:646.25px;top:354.90px;width:1.80px;height:18.10px;background:#FFF2D6"></div>
<div style="left:665.90px;top:354.90px;width:1.80px;height:18.10px;background:#FFF2D6"></div>
<div style="left:685.55px;top:354.90px;width:1.80px;height:18.10px;background:#FFF2D6"></div>
<div style="left:705.20px;top:354.90px;width:1.80px;height:18.10px;background:#FFF2D6"></div>
<div style="left:724.85px;top:354.90px;width:1.80px;height:18.10px;background:#FFF2D6"></div>
<div style="left:744.50px;top:354.90px;width:1.80px;height:18.10px;background:#FFF2D6"></div>
<div style="left:764.15px;top:354.90px;width:1.80px;height:18.10px;background:#FFF2D6"></div>
<div style="left:783.80px;top:354.90px;width:1.80px;height:18.10px;background:#FFF2D6"></div>
<div style="left:803.45px;top:354.90px;width:1.80px;height:18.10px;background:#FFF2D6"></div>
<div style="left:823.10px;top:354.90px;width:1.80px;height:18.10px;background:#FFF2D6"></div>
<div style="left:152.50px;top:372.10px;width:769.50px;height:1.80px;background:#FFF2D6"></div>
<div style="left:151.60px;top:373.00px;width:1.80px;height:18.10px;background:#FFF2D6"></div>
<div style="left:174.60px;top:373.00px;width:1.80px;height:18.10px;background:#FFF2D6"></div>
<div style="left:194.20px;top:373.00px;width:1.80px;height:18.10px;background:#FFF2D6"></div>
<div style="left:213.80px;top:373.00px;width:1.80px;height:18.10px;background:#FFF2D6"></div>
<div style="left:233.40px;top:373.00px;width:1.80px;height:18.10px;background:#FFF2D6"></div>
<div style="left:253.00px;top:373.00px;width:1.80px;height:18.10px;background:#FFF2D6"></div>
<div style="left:272.60px;top:373.00px;width:1.80px;height:18.10px;background:#FFF2D6"></div>
<div style="left:292.20px;top:373.00px;width:1.80px;height:18.10px;background:#FFF2D6"></div>
<div style="left:311.80px;top:373.00px;width:1.80px;height:18.10px;background:#FFF2D6"></div>
<div style="left:331.40px;top:373.00px;width:1.80px;height:18.10px;background:#FFF2D6"></div>
<div style="left:351.00px;top:373.00px;width:1.80px;height:18.10px;background:#FFF2D6"></div>
<div style="left:370.60px;top:373.00px;width:1.80px;height:18.10px;background:#FFF2D6"></div>
<div style="left:470.60px;top:373.00px;width:1.80px;height:18.10px;background:#FFF2D6"></div>
<div style="left:490.60px;top:373.00px;width:1.80px;height:18.10px;background:#FFF2D6"></div>
<div style="left:507.60px;top:373.00px;width:1.80px;height:18.10px;background:#FFF2D6"></div>
<div style="left:526.60px;top:373.00px;width:1.80px;height:18.10px;background:#FFF2D6"></div>
<div style="left:626.60px;top:373.00px;width:1.80px;height:18.10px;background:#FFF2D6"></div>
<div style="left:646.25px;top:373.00px;width:1.80px;height:18.10px;background:#FFF2D6"></div>
<div style="left:665.90px;top:373.00px;width:1.80px;height:18.10px;background:#FFF2D6"></div>
<div style="left:685.55px;top:373.00px;width:1.80px;height:18.10px;background:#FFF2D6"></div>
<div style="left:705.20px;top:373.00px;width:1.80px;height:18.10px;background:#FFF2D6"></div>
<div style="left:724.85px;top:373.00px;width:1.80px;height:18.10px;background:#FFF2D6"></div>
<div style="left:744.50px;top:373.00px;width:1.80px;height:18.10px;background:#FFF2D6"></div>
<div style="left:764.15px;top:373.00px;width:1.80px;height:18.10px;background:#FFF2D6"></div>
<div style="left:783.80px;top:373.00px;width:1.80px;height:18.10px;background:#FFF2D6"></div>
<div style="left:803.45px;top:373.00px;width:1.80px;height:18.10px;background:#FFF2D6"></div>
<div style="left:823.10px;top:373.00px;width:1.80px;height:18.10px;background:#FFF2D6"></div>
<div style="left:152.50px;top:390.20px;width:769.50px;height:1.80px;background:#FFF2D6"></div>
<div style="left:151.60px;top:391.10px;width:1.80px;height:18.10px;background:#FFF2D6"></div>
<div style="left:174.60px;top:391.10px;width:1.80px;height:18.10px;background:#FFF2D6"></div>
<div style="left:194.20px;top:391.10px;width:1.80px;height:18.10px;background:#FFF2D6"></div>
<div style="left:213.80px;top:391.10px;width:1.80px;height:18.10px;background:#FFF2D6"></div>
<div style="left:233.40px;top:391.10px;width:1.80px;height:18.10px;background:#FFF2D6"></div>
<div style="left:253.00px;top:391.10px;width:1.80px;height:18.10px;background:#FFF2D6"></div>
<div style="left:272.60px;top:391.10px;width:1.80px;height:18.10px;background:#FFF2D6"></div>
<div style="left:292.20px;top:391.10px;width:1.80px;height:18.10px;background:#FFF2D6"></div>
<div style="left:311.80px;top:391.10px;width:1.80px;height:18.10px;background:#FFF2D6"></div>
<div style="left:331.40px;top:391.10px;width:1.80px;height:18.10px;background:#FFF2D6"></div>
<div style="left:351.00px;top:391.10px;width:1.80px;height:18.10px;background:#FFF2D6"></div>
<div style="left:370.60px;top:391.10px;width:1.80px;height:18.10px;background:#FFF2D6"></div>
<div style="left:470.60px;top:391.10px;width:1.80px;height:18.10px;background:#FFF2D6"></div>
<div style="left:490.60px;top:391.10px;width:1.80px;height:18.10px;background:#FFF2D6"></div>
<div style="left:507.60px;top:391.10px;width:1.80px;height:18.10px;background:#FFF2D6"></div>
<div style="left:526.60px;top:391.10px;width:1.80px;height:18.10px;background:#FFF2D6"></div>
<div style="left:626.60px;top:391.10px;width:1.80px;height:18.10px;background:#FFF2D6"></div>
<div style="left:646.25px;top:391.10px;width:1.80px;height:18.10px;background:#FFF2D6"></div>
<div style="left:665.90px;top:391.10px;width:1.80px;height:18.10px;background:#FFF2D6"></div>
<div style="left:685.55px;top:391.10px;width:1.80px;height:18.10px;background:#FFF2D6"></div>
<div style="left:705.20px;top:391.10px;width:1.80px;height:18.10px;background:#FFF2D6"></div>
<div style="left:724.85px;top:391.10px;width:1.80px;height:18.10px;background:#FFF2D6"></div>
<div style="left:744.50px;top:391.10px;width:1.80px;height:18.10px;background:#FFF2D6"></div>
<div style="left:764.15px;top:391.10px;width:1.80px;height:18.10px;background:#FFF2D6"></div>
<div style="left:783.80px;top:391.10px;width:1.80px;height:18.10px;background:#FFF2D6"></div>
<div style="left:803.45px;top:391.10px;width:1.80px;height:18.10px;background:#FFF2D6"></div>
<div style="left:823.10px;top:391.10px;width:1.80px;height:18.10px;background:#FFF2D6"></div>
<div style="left:152.50px;top:408.30px;width:769.50px;height:1.80px;background:#FFF2D6"></div>
<div style="left:151.60px;top:409.20px;width:1.80px;height:18.10px;background:#FFF2D6"></div>
<div style="left:174.60px;top:409.20px;width:1.80px;height:18.10px;background:#FFF2D6"></div>
<div style="left:194.20px;top:409.20px;width:1.80px;height:18.10px;background:#FFF2D6"></div>
<div style="left:213.80px;top:409.20px;width:1.80px;height:18.10px;background:#FFF2D6"></div>
<div style="left:233.40px;top:409.20px;width:1.80px;height:18.10px;background:#FFF2D6"></div>
<div style="left:253.00px;top:409.20px;width:1.80px;height:18.10px;background:#FFF2D6"></div>
<div style="left:272.60px;top:409.20px;width:1.80px;height:18.10px;background:#FFF2D6"></div>
<div style="left:292.20px;top:409.20px;width:1.80px;height:18.10px;background:#FFF2D6"></div>
<div style="left:311.80px;top:409.20px;width:1.80px;height:18.10px;background:#FFF2D6"></div>
<div style="left:331.40px;top:409.20px;width:1.80px;height:18.10px;background:#FFF2D6"></div>
<div style="left:351.00px;top:409.20px;width:1.80px;height:18.10px;background:#FFF2D6"></div>
<div style="left:370.60px;top:409.20px;width:1.80px;height:18.10px;background:#FFF2D6"></div>
<div style="left:470.60px;top:409.20px;width:1.80px;height:18.10px;background:#FFF2D6"></div>
<div style="left:490.60px;top:409.20px;width:1.80px;height:18.10px;background:#FFF2D6"></div>
<div style="left:507.60px;top:409.20px;width:1.80px;height:18.10px;background:#FFF2D6"></div>
<div style="left:526.60px;top:409.20px;width:1.80px;height:18.10px;background:#FFF2D6"></div>
<div style="left:626.60px;top:409.20px;width:1.80px;height:18.10px;background:#FFF2D6"></div>
<div style="left:646.25px;top:409.20px;width:1.80px;height:18.10px;background:#FFF2D6"></div>
<div style="left:665.90px;top:409.20px;width:1.80px;height:18.10px;background:#FFF2D6"></div>
<div style="left:685.55px;top:409.20px;width:1.80px;height:18.10px;background:#FFF2D6"></div>
<div style="left:705.20px;top:409.20px;width:1.80px;height:18.10px;background:#FFF2D6"></div>
<div style="left:724.85px;top:409.20px;width:1.80px;height:18.10px;background:#FFF2D6"></div>
<div style="left:744.50px;top:409.20px;width:1.80px;height:18.10px;background:#FFF2D6"></div>
<div style="left:764.15px;top:409.20px;width:1.80px;height:18.10px;background:#FFF2D6"></div>
<div style="left:783.80px;top:409.20px;width:1.80px;height:18.10px;background:#FFF2D6"></div>
<div style="left:803.45px;top:409.20px;width:1.80px;height:18.10px;background:#FFF2D6"></div>
<div style="left:823.10px;top:409.20px;width:1.80px;height:18.10px;background:#FFF2D6"></div>
<div style="left:152.50px;top:426.40px;width:769.50px;height:1.80px;background:#FFF2D6"></div>
<div style="left:151.60px;top:427.30px;width:1.80px;height:18.10px;background:#FFF2D6"></div>
<div style="left:174.60px;top:427.30px;width:1.80px;height:18.10px;background:#FFF2D6"></div>
<div style="left:194.20px;top:427.30px;width:1.80px;height:18.10px;background:#FFF2D6"></div>
<div style="left:213.80px;top:427.30px;width:1.80px;height:18.10px;background:#FFF2D6"></div>
<div style="left:233.40px;top:427.30px;width:1.80px;height:18.10px;background:#FFF2D6"></div>
<div style="left:253.00px;top:427.30px;width:1.80px;height:18.10px;background:#FFF2D6"></div>
<div style="left:272.60px;top:427.30px;width:1.80px;height:18.10px;background:#FFF2D6"></div>
<div style="left:292.20px;top:427.30px;width:1.80px;height:18.10px;background:#FFF2D6"></div>
<div style="left:311.80px;top:427.30px;width:1.80px;height:18.10px;background:#FFF2D6"></div>
<div style="left:331.40px;top:427.30px;width:1.80px;height:18.10px;background:#FFF2D6"></div>
<div style="left:351.00px;top:427.30px;width:1.80px;height:18.10px;background:#FFF2D6"></div>
<div style="left:370.60px;top:427.30px;width:1.80px;height:18.10px;background:#FFF2D6"></div>
<div style="left:470.60px;top:427.30px;width:1.80px;height:18.10px;background:#FFF2D6"></div>
<div style="left:490.60px;top:427.30px;width:1.80px;height:18.10px;background:#FFF2D6"></div>
<div style="left:507.60px;top:427.30px;width:1.80px;height:18.10px;background:#FFF2D6"></div>
<div style="left:526.60px;top:427.30px;width:1.80px;height:18.10px;background:#FFF2D6"></div>
<div style="left:626.60px;top:427.30px;width:1.80px;height:18.10px;background:#FFF2D6"></div>
<div style="left:646.25px;top:427.30px;width:1.80px;height:18.10px;background:#FFF2D6"></div>
<div style="left:665.90px;top:427.30px;width:1.80px;height:18.10px;background:#FFF2D6"></div>
<div style="left:685.55px;top:427.30px;width:1.80px;height:18.10px;background:#FFF2D6"></div>
<div style="left:705.20px;top:427.30px;width:1.80px;height:18.10px;background:#FFF2D6"></div>
<div style="left:724.85px;top:427.30px;width:1.80px;height:18.10px;background:#FFF2D6"></div>
<div style="left:744.50px;top:427.30px;width:1.80px;height:18.10px;background:#FFF2D6"></div>
<div style="left:764.15px;top:427.30px;width:1.80px;height:18.10px;background:#FFF2D6"></div>
<div style="left:783.80px;top:427.30px;width:1.80px;height:18.10px;background:#FFF2D6"></div>
<div style="left:803.45px;top:427.30px;width:1.80px;height:18.10px;background:#FFF2D6"></div>
<div style="left:823.10px;top:427.30px;width:1.80px;height:18.10px;background:#FFF2D6"></div>
<div style="left:152.50px;top:444.50px;width:769.50px;height:1.80px;background:#FFF2D6"></div>
<div style="left:151.60px;top:445.40px;width:1.80px;height:18.10px;background:#FFF2D6"></div>
<div style="left:174.60px;top:445.40px;width:1.80px;height:18.10px;background:#FFF2D6"></div>
<div style="left:194.20px;top:445.40px;width:1.80px;height:18.10px;background:#FFF2D6"></div>
<div style="left:213.80px;top:445.40px;width:1.80px;height:18.10px;background:#FFF2D6"></div>
<div style="left:233.40px;top:445.40px;width:1.80px;height:18.10px;background:#FFF2D6"></div>
<div style="left:253.00px;top:445.40px;width:1.80px;height:18.10px;background:#FFF2D6"></div>
<div style="left:272.60px;top:445.40px;width:1.80px;height:18.10px;background:#FFF2D6"></div>
<div style="left:292.20px;top:445.40px;width:1.80px;height:18.10px;background:#FFF2D6"></div>
<div style="left:311.80px;top:445.40px;width:1.80px;height:18.10px;background:#FFF2D6"></div>
<div style="left:331.40px;top:445.40px;width:1.80px;height:18.10px;background:#FFF2D6"></div>
<div style="left:351.00px;top:445.40px;width:1.80px;height:18.10px;background:#FFF2D6"></div>
<div style="left:370.60px;top:445.40px;width:1.80px;height:18.10px;background:#FFF2D6"></div>
<div style="left:470.60px;top:445.40px;width:1.80px;height:18.10px;background:#FFF2D6"></div>
<div style="left:490.60px;top:445.40px;width:1.80px;height:18.10px;background:#FFF2D6"></div>
<div style="left:507.60px;top:445.40px;width:1.80px;height:18.10px;background:#FFF2D6"></div>
<div style="left:526.60px;top:445.40px;width:1.80px;height:18.10px;background:#FFF2D6"></div>
<div style="left:626.60px;top:445.40px;width:1.80px;height:18.10px;background:#FFF2D6"></div>
<div style="left:646.25px;top:445.40px;width:1.80px;height:18.10px;background:#FFF2D6"></div>
<div style="left:665.90px;top:445.40px;width:1.80px;height:18.10px;background:#FFF2D6"></div>
<div style="left:685.55px;top:445.40px;width:1.80px;height:18.10px;background:#FFF2D6"></div>
<div style="left:705.20px;top:445.40px;width:1.80px;height:18.10px;background:#FFF2D6"></div>
<div style="left:724.85px;top:445.40px;width:1.80px;height:18.10px;background:#FFF2D6"></div>
<div style="left:744.50px;top:445.40px;width:1.80px;height:18.10px;background:#FFF2D6"></div>
<div style="left:764.15px;top:445.40px;width:1.80px;height:18.10px;background:#FFF2D6"></div>
<div style="left:783.80px;top:445.40px;width:1.80px;height:18.10px;background:#FFF2D6"></div>
<div style="left:803.45px;top:445.40px;width:1.80px;height:18.10px;background:#FFF2D6"></div>
<div style="left:823.10px;top:445.40px;width:1.80px;height:18.10px;background:#FFF2D6"></div>
<div style="left:152.50px;top:462.60px;width:769.50px;height:1.80px;background:#FFF2D6"></div>
<div style="left:151.60px;top:499.70px;width:1.80px;height:18.10px;background:#FFF6C8"></div>
<div style="left:174.60px;top:499.70px;width:1.80px;height:18.10px;background:#FFF6C8"></div>
<div style="left:194.20px;top:499.70px;width:1.80px;height:18.10px;background:#FFF6C8"></div>
<div style="left:213.80px;top:499.70px;width:1.80px;height:18.10px;background:#FFF6C8"></div>
<div style="left:233.40px;top:499.70px;width:1.80px;height:18.10px;background:#FFF6C8"></div>
<div style="left:253.00px;top:499.70px;width:1.80px;height:18.10px;background:#FFF6C8"></div>
<div style="left:272.60px;top:499.70px;width:1.80px;height:18.10px;background:#FFF6C8"></div>
<div style="left:292.20px;top:499.70px;width:1.80px;height:18.10px;background:#FFF6C8"></div>
<div style="left:311.80px;top:499.70px;width:1.80px;height:18.10px;background:#FFF6C8"></div>
<div style="left:331.40px;top:499.70px;width:1.80px;height:18.10px;background:#FFF6C8"></div>
<div style="left:351.00px;top:499.70px;width:1.80px;height:18.10px;background:#FFF6C8"></div>
<div style="left:370.60px;top:499.70px;width:1.80px;height:18.10px;background:#FFF6C8"></div>
<div style="left:470.60px;top:499.70px;width:1.80px;height:18.10px;background:#FFF6C8"></div>
<div style="left:490.60px;top:499.70px;width:1.80px;height:18.10px;background:#FFF6C8"></div>
<div style="left:507.60px;top:499.70px;width:1.80px;height:18.10px;background:#FFF6C8"></div>
<div style="left:526.60px;top:499.70px;width:1.80px;height:18.10px;background:#FFF6C8"></div>
<div style="left:626.60px;top:499.70px;width:1.80px;height:18.10px;background:#FFF6C8"></div>
<div style="left:646.25px;top:499.70px;width:1.80px;height:18.10px;background:#FFF6C8"></div>
<div style="left:665.90px;top:499.70px;width:1.80px;height:18.10px;background:#FFF6C8"></div>
<div style="left:685.55px;top:499.70px;width:1.80px;height:18.10px;background:#FFF6C8"></div>
<div style="left:705.20px;top:499.70px;width:1.80px;height:18.10px;background:#FFF6C8"></div>
<div style="left:724.85px;top:499.70px;width:1.80px;height:18.10px;background:#FFF6C8"></div>
<div style="left:744.50px;top:499.70px;width:1.80px;height:18.10px;background:#FFF6C8"></div>
<div style="left:764.15px;top:499.70px;width:1.80px;height:18.10px;background:#FFF6C8"></div>
<div style="left:783.80px;top:499.70px;width:1.80px;height:18.10px;background:#FFF6C8"></div>
<div style="left:803.45px;top:499.70px;width:1.80px;height:18.10px;background:#FFF6C8"></div>
<div style="left:823.10px;top:499.70px;width:1.80px;height:18.10px;background:#FFF6C8"></div>
<div style="left:152.50px;top:516.90px;width:769.50px;height:1.80px;background:#FFF6C8"></div>
<div style="left:152.50px;top:498.70px;width:769.50px;height:2.00px;background:#FFF6C8"></div>
<div style="left:151.60px;top:517.80px;width:1.80px;height:18.10px;background:#FFF6C8"></div>
<div style="left:174.60px;top:517.80px;width:1.80px;height:18.10px;background:#FFF6C8"></div>
<div style="left:194.20px;top:517.80px;width:1.80px;height:18.10px;background:#FFF6C8"></div>
<div style="left:213.80px;top:517.80px;width:1.80px;height:18.10px;background:#FFF6C8"></div>
<div style="left:233.40px;top:517.80px;width:1.80px;height:18.10px;background:#FFF6C8"></div>
<div style="left:253.00px;top:517.80px;width:1.80px;height:18.10px;background:#FFF6C8"></div>
<div style="left:272.60px;top:517.80px;width:1.80px;height:18.10px;background:#FFF6C8"></div>
<div style="left:292.20px;top:517.80px;width:1.80px;height:18.10px;background:#FFF6C8"></div>
<div style="left:311.80px;top:517.80px;width:1.80px;height:18.10px;background:#FFF6C8"></div>
<div style="left:331.40px;top:517.80px;width:1.80px;height:18.10px;background:#FFF6C8"></div>
<div style="left:351.00px;top:517.80px;width:1.80px;height:18.10px;background:#FFF6C8"></div>
<div style="left:370.60px;top:517.80px;width:1.80px;height:18.10px;background:#FFF6C8"></div>
<div style="left:470.60px;top:517.80px;width:1.80px;height:18.10px;background:#FFF6C8"></div>
<div style="left:490.60px;top:517.80px;width:1.80px;height:18.10px;background:#FFF6C8"></div>
<div style="left:507.60px;top:517.80px;width:1.80px;height:18.10px;background:#FFF6C8"></div>
<div style="left:526.60px;top:517.80px;width:1.80px;height:18.10px;background:#FFF6C8"></div>
<div style="left:626.60px;top:517.80px;width:1.80px;height:18.10px;background:#FFF6C8"></div>
<div style="left:646.25px;top:517.80px;width:1.80px;height:18.10px;background:#FFF6C8"></div>
<div style="left:665.90px;top:517.80px;width:1.80px;height:18.10px;background:#FFF6C8"></div>
<div style="left:685.55px;top:517.80px;width:1.80px;height:18.10px;background:#FFF6C8"></div>
<div style="left:705.20px;top:517.80px;width:1.80px;height:18.10px;background:#FFF6C8"></div>
<div style="left:724.85px;top:517.80px;width:1.80px;height:18.10px;background:#FFF6C8"></div>
<div style="left:744.50px;top:517.80px;width:1.80px;height:18.10px;background:#FFF6C8"></div>
<div style="left:764.15px;top:517.80px;width:1.80px;height:18.10px;background:#FFF6C8"></div>
<div style="left:783.80px;top:517.80px;width:1.80px;height:18.10px;background:#FFF6C8"></div>
<div style="left:803.45px;top:517.80px;width:1.80px;height:18.10px;background:#FFF6C8"></div>
<div style="left:823.10px;top:517.80px;width:1.80px;height:18.10px;background:#FFF6C8"></div>
<div style="left:152.50px;top:535.00px;width:769.50px;height:1.80px;background:#FFF6C8"></div>
<div style="left:151.60px;top:535.90px;width:1.80px;height:18.10px;background:#FFF6C8"></div>
<div style="left:174.60px;top:535.90px;width:1.80px;height:18.10px;background:#FFF6C8"></div>
<div style="left:194.20px;top:535.90px;width:1.80px;height:18.10px;background:#FFF6C8"></div>
<div style="left:213.80px;top:535.90px;width:1.80px;height:18.10px;background:#FFF6C8"></div>
<div style="left:233.40px;top:535.90px;width:1.80px;height:18.10px;background:#FFF6C8"></div>
<div style="left:253.00px;top:535.90px;width:1.80px;height:18.10px;background:#FFF6C8"></div>
<div style="left:272.60px;top:535.90px;width:1.80px;height:18.10px;background:#FFF6C8"></div>
<div style="left:292.20px;top:535.90px;width:1.80px;height:18.10px;background:#FFF6C8"></div>
<div style="left:311.80px;top:535.90px;width:1.80px;height:18.10px;background:#FFF6C8"></div>
<div style="left:331.40px;top:535.90px;width:1.80px;height:18.10px;background:#FFF6C8"></div>
<div style="left:351.00px;top:535.90px;width:1.80px;height:18.10px;background:#FFF6C8"></div>
<div style="left:370.60px;top:535.90px;width:1.80px;height:18.10px;background:#FFF6C8"></div>
<div style="left:470.60px;top:535.90px;width:1.80px;height:18.10px;background:#FFF6C8"></div>
<div style="left:490.60px;top:535.90px;width:1.80px;height:18.10px;background:#FFF6C8"></div>
<div style="left:507.60px;top:535.90px;width:1.80px;height:18.10px;background:#FFF6C8"></div>
<div style="left:526.60px;top:535.90px;width:1.80px;height:18.10px;background:#FFF6C8"></div>
<div style="left:626.60px;top:535.90px;width:1.80px;height:18.10px;background:#FFF6C8"></div>
<div style="left:646.25px;top:535.90px;width:1.80px;height:18.10px;background:#FFF6C8"></div>
<div style="left:665.90px;top:535.90px;width:1.80px;height:18.10px;background:#FFF6C8"></div>
<div style="left:685.55px;top:535.90px;width:1.80px;height:18.10px;background:#FFF6C8"></div>
<div style="left:705.20px;top:535.90px;width:1.80px;height:18.10px;background:#FFF6C8"></div>
<div style="left:724.85px;top:535.90px;width:1.80px;height:18.10px;background:#FFF6C8"></div>
<div style="left:744.50px;top:535.90px;width:1.80px;height:18.10px;background:#FFF6C8"></div>
<div style="left:764.15px;top:535.90px;width:1.80px;height:18.10px;background:#FFF6C8"></div>
<div style="left:783.80px;top:535.90px;width:1.80px;height:18.10px;background:#FFF6C8"></div>
<div style="left:803.45px;top:535.90px;width:1.80px;height:18.10px;background:#FFF6C8"></div>
<div style="left:823.10px;top:535.90px;width:1.80px;height:18.10px;background:#FFF6C8"></div>
<div style="left:152.50px;top:553.10px;width:769.50px;height:1.80px;background:#FFF6C8"></div>
<div style="left:151.60px;top:554.00px;width:1.80px;height:18.10px;background:#FFF6C8"></div>
<div style="left:174.60px;top:554.00px;width:1.80px;height:18.10px;background:#FFF6C8"></div>
<div style="left:194.20px;top:554.00px;width:1.80px;height:18.10px;background:#FFF6C8"></div>
<div style="left:213.80px;top:554.00px;width:1.80px;height:18.10px;background:#FFF6C8"></div>
<div style="left:233.40px;top:554.00px;width:1.80px;height:18.10px;background:#FFF6C8"></div>
<div style="left:253.00px;top:554.00px;width:1.80px;height:18.10px;background:#FFF6C8"></div>
<div style="left:272.60px;top:554.00px;width:1.80px;height:18.10px;background:#FFF6C8"></div>
<div style="left:292.20px;top:554.00px;width:1.80px;height:18.10px;background:#FFF6C8"></div>
<div style="left:311.80px;top:554.00px;width:1.80px;height:18.10px;background:#FFF6C8"></div>
<div style="left:331.40px;top:554.00px;width:1.80px;height:18.10px;background:#FFF6C8"></div>
<div style="left:351.00px;top:554.00px;width:1.80px;height:18.10px;background:#FFF6C8"></div>
<div style="left:370.60px;top:554.00px;width:1.80px;height:18.10px;background:#FFF6C8"></div>
<div style="left:470.60px;top:554.00px;width:1.80px;height:18.10px;background:#FFF6C8"></div>
<div style="left:490.60px;top:554.00px;width:1.80px;height:18.10px;background:#FFF6C8"></div>
<div style="left:507.60px;top:554.00px;width:1.80px;height:18.10px;background:#FFF6C8"></div>
<div style="left:526.60px;top:554.00px;width:1.80px;height:18.10px;background:#FFF6C8"></div>
<div style="left:626.60px;top:554.00px;width:1.80px;height:18.10px;background:#FFF6C8"></div>
<div style="left:646.25px;top:554.00px;width:1.80px;height:18.10px;background:#FFF6C8"></div>
<div style="left:665.90px;top:554.00px;width:1.80px;height:18.10px;background:#FFF6C8"></div>
<div style="left:685.55px;top:554.00px;width:1.80px;height:18.10px;background:#FFF6C8"></div>
<div style="left:705.20px;top:554.00px;width:1.80px;height:18.10px;background:#FFF6C8"></div>
<div style="left:724.85px;top:554.00px;width:1.80px;height:18.10px;background:#FFF6C8"></div>
<div style="left:744.50px;top:554.00px;width:1.80px;height:18.10px;background:#FFF6C8"></div>
<div style="left:764.15px;top:554.00px;width:1.80px;height:18.10px;background:#FFF6C8"></div>
<div style="left:783.80px;top:554.00px;width:1.80px;height:18.10px;background:#FFF6C8"></div>
<div style="left:803.45px;top:554.00px;width:1.80px;height:18.10px;background:#FFF6C8"></div>
<div style="left:823.10px;top:554.00px;width:1.80px;height:18.10px;background:#FFF6C8"></div>
<div style="left:152.50px;top:571.20px;width:769.50px;height:1.80px;background:#FFF6C8"></div>
<div style="left:151.60px;top:572.10px;width:1.80px;height:18.10px;background:#FFFFFF"></div>
<div style="left:174.60px;top:572.10px;width:1.80px;height:18.10px;background:#FFFFFF"></div>
<div style="left:194.20px;top:572.10px;width:1.80px;height:18.10px;background:#FFFFFF"></div>
<div style="left:213.80px;top:572.10px;width:1.80px;height:18.10px;background:#FFFFFF"></div>
<div style="left:233.40px;top:572.10px;width:1.80px;height:18.10px;background:#FFFFFF"></div>
<div style="left:253.00px;top:572.10px;width:1.80px;height:18.10px;background:#FFFFFF"></div>
<div style="left:272.60px;top:572.10px;width:1.80px;height:18.10px;background:#FFFFFF"></div>
<div style="left:292.20px;top:572.10px;width:1.80px;height:18.10px;background:#FFFFFF"></div>
<div style="left:311.80px;top:572.10px;width:1.80px;height:18.10px;background:#FFFFFF"></div>
<div style="left:331.40px;top:572.10px;width:1.80px;height:18.10px;background:#FFFFFF"></div>
<div style="left:351.00px;top:572.10px;width:1.80px;height:18.10px;background:#FFFFFF"></div>
<div style="left:370.60px;top:572.10px;width:1.80px;height:18.10px;background:#FFFFFF"></div>
<div style="left:470.60px;top:572.10px;width:1.80px;height:18.10px;background:#FFFFFF"></div>
<div style="left:490.60px;top:572.10px;width:1.80px;height:18.10px;background:#FFFFFF"></div>
<div style="left:507.60px;top:572.10px;width:1.80px;height:18.10px;background:#FFFFFF"></div>
<div style="left:526.60px;top:572.10px;width:1.80px;height:18.10px;background:#FFFFFF"></div>
<div style="left:626.60px;top:572.10px;width:1.80px;height:18.10px;background:#FFFFFF"></div>
<div style="left:646.25px;top:572.10px;width:1.80px;height:18.10px;background:#FFFFFF"></div>
<div style="left:665.90px;top:572.10px;width:1.80px;height:18.10px;background:#FFFFFF"></div>
<div style="left:685.55px;top:572.10px;width:1.80px;height:18.10px;background:#FFFFFF"></div>
<div style="left:705.20px;top:572.10px;width:1.80px;height:18.10px;background:#FFFFFF"></div>
<div style="left:724.85px;top:572.10px;width:1.80px;height:18.10px;background:#FFFFFF"></div>
<div style="left:744.50px;top:572.10px;width:1.80px;height:18.10px;background:#FFFFFF"></div>
<div style="left:764.15px;top:572.10px;width:1.80px;height:18.10px;background:#FFFFFF"></div>
<div style="left:783.80px;top:572.10px;width:1.80px;height:18.10px;background:#FFFFFF"></div>
<div style="left:803.45px;top:572.10px;width:1.80px;height:18.10px;background:#FFFFFF"></div>
<div style="left:823.10px;top:572.10px;width:1.80px;height:18.10px;background:#FFFFFF"></div>
<div style="left:152.50px;top:589.30px;width:769.50px;height:1.80px;background:#FFFFFF"></div>
<div style="left:151.60px;top:590.20px;width:1.80px;height:18.10px;background:#FFFFFF"></div>
<div style="left:174.60px;top:590.20px;width:1.80px;height:18.10px;background:#FFFFFF"></div>
<div style="left:194.20px;top:590.20px;width:1.80px;height:18.10px;background:#FFFFFF"></div>
<div style="left:213.80px;top:590.20px;width:1.80px;height:18.10px;background:#FFFFFF"></div>
<div style="left:233.40px;top:590.20px;width:1.80px;height:18.10px;background:#FFFFFF"></div>
<div style="left:253.00px;top:590.20px;width:1.80px;height:18.10px;background:#FFFFFF"></div>
<div style="left:272.60px;top:590.20px;width:1.80px;height:18.10px;background:#FFFFFF"></div>
<div style="left:292.20px;top:590.20px;width:1.80px;height:18.10px;background:#FFFFFF"></div>
<div style="left:311.80px;top:590.20px;width:1.80px;height:18.10px;background:#FFFFFF"></div>
<div style="left:331.40px;top:590.20px;width:1.80px;height:18.10px;background:#FFFFFF"></div>
<div style="left:351.00px;top:590.20px;width:1.80px;height:18.10px;background:#FFFFFF"></div>
<div style="left:370.60px;top:590.20px;width:1.80px;height:18.10px;background:#FFFFFF"></div>
<div style="left:470.60px;top:590.20px;width:1.80px;height:18.10px;background:#FFFFFF"></div>
<div style="left:490.60px;top:590.20px;width:1.80px;height:18.10px;background:#FFFFFF"></div>
<div style="left:507.60px;top:590.20px;width:1.80px;height:18.10px;background:#FFFFFF"></div>
<div style="left:526.60px;top:590.20px;width:1.80px;height:18.10px;background:#FFFFFF"></div>
<div style="left:626.60px;top:590.20px;width:1.80px;height:18.10px;background:#FFFFFF"></div>
<div style="left:646.25px;top:590.20px;width:1.80px;height:18.10px;background:#FFFFFF"></div>
<div style="left:665.90px;top:590.20px;width:1.80px;height:18.10px;background:#FFFFFF"></div>
<div style="left:685.55px;top:590.20px;width:1.80px;height:18.10px;background:#FFFFFF"></div>
<div style="left:705.20px;top:590.20px;width:1.80px;height:18.10px;background:#FFFFFF"></div>
<div style="left:724.85px;top:590.20px;width:1.80px;height:18.10px;background:#FFFFFF"></div>
<div style="left:744.50px;top:590.20px;width:1.80px;height:18.10px;background:#FFFFFF"></div>
<div style="left:764.15px;top:590.20px;width:1.80px;height:18.10px;background:#FFFFFF"></div>
<div style="left:783.80px;top:590.20px;width:1.80px;height:18.10px;background:#FFFFFF"></div>
<div style="left:803.45px;top:590.20px;width:1.80px;height:18.10px;background:#FFFFFF"></div>
<div style="left:823.10px;top:590.20px;width:1.80px;height:18.10px;background:#FFFFFF"></div>
<div style="left:152.50px;top:607.40px;width:769.50px;height:1.80px;background:#FFFFFF"></div>
<div style="left:151.60px;top:608.30px;width:1.80px;height:18.10px;background:#FFFFFF"></div>
<div style="left:174.60px;top:608.30px;width:1.80px;height:18.10px;background:#FFFFFF"></div>
<div style="left:194.20px;top:608.30px;width:1.80px;height:18.10px;background:#FFFFFF"></div>
<div style="left:213.80px;top:608.30px;width:1.80px;height:18.10px;background:#FFFFFF"></div>
<div style="left:233.40px;top:608.30px;width:1.80px;height:18.10px;background:#FFFFFF"></div>
<div style="left:253.00px;top:608.30px;width:1.80px;height:18.10px;background:#FFFFFF"></div>
<div style="left:272.60px;top:608.30px;width:1.80px;height:18.10px;background:#FFFFFF"></div>
<div style="left:292.20px;top:608.30px;width:1.80px;height:18.10px;background:#FFFFFF"></div>
<div style="left:311.80px;top:608.30px;width:1.80px;height:18.10px;background:#FFFFFF"></div>
<div style="left:331.40px;top:608.30px;width:1.80px;height:18.10px;background:#FFFFFF"></div>
<div style="left:351.00px;top:608.30px;width:1.80px;height:18.10px;background:#FFFFFF"></div>
<div style="left:370.60px;top:608.30px;width:1.80px;height:18.10px;background:#FFFFFF"></div>
<div style="left:470.60px;top:608.30px;width:1.80px;height:18.10px;background:#FFFFFF"></div>
<div style="left:490.60px;top:608.30px;width:1.80px;height:18.10px;background:#FFFFFF"></div>
<div style="left:507.60px;top:608.30px;width:1.80px;height:18.10px;background:#FFFFFF"></div>
<div style="left:526.60px;top:608.30px;width:1.80px;height:18.10px;background:#FFFFFF"></div>
<div style="left:626.60px;top:608.30px;width:1.80px;height:18.10px;background:#FFFFFF"></div>
<div style="left:646.25px;top:608.30px;width:1.80px;height:18.10px;background:#FFFFFF"></div>
<div style="left:665.90px;top:608.30px;width:1.80px;height:18.10px;background:#FFFFFF"></div>
<div style="left:685.55px;top:608.30px;width:1.80px;height:18.10px;background:#FFFFFF"></div>
<div style="left:705.20px;top:608.30px;width:1.80px;height:18.10px;background:#FFFFFF"></div>
<div style="left:724.85px;top:608.30px;width:1.80px;height:18.10px;background:#FFFFFF"></div>
<div style="left:744.50px;top:608.30px;width:1.80px;height:18.10px;background:#FFFFFF"></div>
<div style="left:764.15px;top:608.30px;width:1.80px;height:18.10px;background:#FFFFFF"></div>
<div style="left:783.80px;top:608.30px;width:1.80px;height:18.10px;background:#FFFFFF"></div>
<div style="left:803.45px;top:608.30px;width:1.80px;height:18.10px;background:#FFFFFF"></div>
<div style="left:823.10px;top:608.30px;width:1.80px;height:18.10px;background:#FFFFFF"></div>
<div style="left:152.50px;top:625.50px;width:769.50px;height:1.80px;background:#FFFFFF"></div>
<div style="left:151.60px;top:626.40px;width:1.80px;height:18.10px;background:#FFFFFF"></div>
<div style="left:174.60px;top:626.40px;width:1.80px;height:18.10px;background:#FFFFFF"></div>
<div style="left:194.20px;top:626.40px;width:1.80px;height:18.10px;background:#FFFFFF"></div>
<div style="left:213.80px;top:626.40px;width:1.80px;height:18.10px;background:#FFFFFF"></div>
<div style="left:233.40px;top:626.40px;width:1.80px;height:18.10px;background:#FFFFFF"></div>
<div style="left:253.00px;top:626.40px;width:1.80px;height:18.10px;background:#FFFFFF"></div>
<div style="left:272.60px;top:626.40px;width:1.80px;height:18.10px;background:#FFFFFF"></div>
<div style="left:292.20px;top:626.40px;width:1.80px;height:18.10px;background:#FFFFFF"></div>
<div style="left:311.80px;top:626.40px;width:1.80px;height:18.10px;background:#FFFFFF"></div>
<div style="left:331.40px;top:626.40px;width:1.80px;height:18.10px;background:#FFFFFF"></div>
<div style="left:351.00px;top:626.40px;width:1.80px;height:18.10px;background:#FFFFFF"></div>
<div style="left:370.60px;top:626.40px;width:1.80px;height:18.10px;background:#FFFFFF"></div>
<div style="left:470.60px;top:626.40px;width:1.80px;height:18.10px;background:#FFFFFF"></div>
<div style="left:490.60px;top:626.40px;width:1.80px;height:18.10px;background:#FFFFFF"></div>
<div style="left:507.60px;top:626.40px;width:1.80px;height:18.10px;background:#FFFFFF"></div>
<div style="left:526.60px;top:626.40px;width:1.80px;height:18.10px;background:#FFFFFF"></div>
<div style="left:626.60px;top:626.40px;width:1.80px;height:18.10px;background:#FFFFFF"></div>
<div style="left:646.25px;top:626.40px;width:1.80px;height:18.10px;background:#FFFFFF"></div>
<div style="left:665.90px;top:626.40px;width:1.80px;height:18.10px;background:#FFFFFF"></div>
<div style="left:685.55px;top:626.40px;width:1.80px;height:18.10px;background:#FFFFFF"></div>
<div style="left:705.20px;top:626.40px;width:1.80px;height:18.10px;background:#FFFFFF"></div>
<div style="left:724.85px;top:626.40px;width:1.80px;height:18.10px;background:#FFFFFF"></div>
<div style="left:744.50px;top:626.40px;width:1.80px;height:18.10px;background:#FFFFFF"></div>
<div style="left:764.15px;top:626.40px;width:1.80px;height:18.10px;background:#FFFFFF"></div>
<div style="left:783.80px;top:626.40px;width:1.80px;height:18.10px;background:#FFFFFF"></div>
<div style="left:803.45px;top:626.40px;width:1.80px;height:18.10px;background:#FFFFFF"></div>
<div style="left:823.10px;top:626.40px;width:1.80px;height:18.10px;background:#FFFFFF"></div>
<div style="left:152.50px;top:643.60px;width:769.50px;height:1.80px;background:#FFFFFF"></div>
<div style="left:62.00px;top:137.70px;width:860.00px;height:18.10px;background:#fff"></div>
<div style="left:61.50px;top:137.70px;width:1.00px;height:18.10px;background:#A2A4A6"></div>
<div style="left:100.50px;top:137.70px;width:1.00px;height:18.10px;background:#A2A4A6"></div>
<div style="left:152.00px;top:137.70px;width:1.00px;height:18.10px;background:#A2A4A6"></div>
<div style="left:175.00px;top:137.70px;width:1.00px;height:18.10px;background:#A2A4A6"></div>
<div style="left:194.60px;top:137.70px;width:1.00px;height:18.10px;background:#A2A4A6"></div>
<div style="left:214.20px;top:137.70px;width:1.00px;height:18.10px;background:#A2A4A6"></div>
<div style="left:233.80px;top:137.70px;width:1.00px;height:18.10px;background:#A2A4A6"></div>
<div style="left:253.40px;top:137.70px;width:1.00px;height:18.10px;background:#A2A4A6"></div>
<div style="left:273.00px;top:137.70px;width:1.00px;height:18.10px;background:#A2A4A6"></div>
<div style="left:292.60px;top:137.70px;width:1.00px;height:18.10px;background:#A2A4A6"></div>
<div style="left:312.20px;top:137.70px;width:1.00px;height:18.10px;background:#A2A4A6"></div>
<div style="left:331.80px;top:137.70px;width:1.00px;height:18.10px;background:#A2A4A6"></div>
<div style="left:351.40px;top:137.70px;width:1.00px;height:18.10px;background:#A2A4A6"></div>
<div style="left:371.00px;top:137.70px;width:1.00px;height:18.10px;background:#A2A4A6"></div>
<div style="left:471.00px;top:137.70px;width:1.00px;height:18.10px;background:#A2A4A6"></div>
<div style="left:491.00px;top:137.70px;width:1.00px;height:18.10px;background:#A2A4A6"></div>
<div style="left:508.00px;top:137.70px;width:1.00px;height:18.10px;background:#A2A4A6"></div>
<div style="left:527.00px;top:137.70px;width:1.00px;height:18.10px;background:#A2A4A6"></div>
<div style="left:627.00px;top:137.70px;width:1.00px;height:18.10px;background:#A2A4A6"></div>
<div style="left:646.65px;top:137.70px;width:1.00px;height:18.10px;background:#A2A4A6"></div>
<div style="left:666.30px;top:137.70px;width:1.00px;height:18.10px;background:#A2A4A6"></div>
<div style="left:685.95px;top:137.70px;width:1.00px;height:18.10px;background:#A2A4A6"></div>
<div style="left:705.60px;top:137.70px;width:1.00px;height:18.10px;background:#A2A4A6"></div>
<div style="left:725.25px;top:137.70px;width:1.00px;height:18.10px;background:#A2A4A6"></div>
<div style="left:744.90px;top:137.70px;width:1.00px;height:18.10px;background:#A2A4A6"></div>
<div style="left:764.55px;top:137.70px;width:1.00px;height:18.10px;background:#A2A4A6"></div>
<div style="left:784.20px;top:137.70px;width:1.00px;height:18.10px;background:#A2A4A6"></div>
<div style="left:803.85px;top:137.70px;width:1.00px;height:18.10px;background:#A2A4A6"></div>
<div style="left:823.50px;top:137.70px;width:1.00px;height:18.10px;background:#A2A4A6"></div>
<div style="left:921.50px;top:137.70px;width:1.00px;height:18.10px;background:#A2A4A6"></div>
<div style="left:62.00px;top:173.90px;width:860.00px;height:18.10px;background:#fff"></div>
<div style="left:61.50px;top:173.90px;width:1.00px;height:18.10px;background:#A2A4A6"></div>
<div style="left:100.50px;top:173.90px;width:1.00px;height:18.10px;background:#A2A4A6"></div>
<div style="left:152.00px;top:173.90px;width:1.00px;height:18.10px;background:#A2A4A6"></div>
<div style="left:175.00px;top:173.90px;width:1.00px;height:18.10px;background:#A2A4A6"></div>
<div style="left:194.60px;top:173.90px;width:1.00px;height:18.10px;background:#A2A4A6"></div>
<div style="left:214.20px;top:173.90px;width:1.00px;height:18.10px;background:#A2A4A6"></div>
<div style="left:233.80px;top:173.90px;width:1.00px;height:18.10px;background:#A2A4A6"></div>
<div style="left:253.40px;top:173.90px;width:1.00px;height:18.10px;background:#A2A4A6"></div>
<div style="left:273.00px;top:173.90px;width:1.00px;height:18.10px;background:#A2A4A6"></div>
<div style="left:292.60px;top:173.90px;width:1.00px;height:18.10px;background:#A2A4A6"></div>
<div style="left:312.20px;top:173.90px;width:1.00px;height:18.10px;background:#A2A4A6"></div>
<div style="left:331.80px;top:173.90px;width:1.00px;height:18.10px;background:#A2A4A6"></div>
<div style="left:351.40px;top:173.90px;width:1.00px;height:18.10px;background:#A2A4A6"></div>
<div style="left:371.00px;top:173.90px;width:1.00px;height:18.10px;background:#A2A4A6"></div>
<div style="left:471.00px;top:173.90px;width:1.00px;height:18.10px;background:#A2A4A6"></div>
<div style="left:491.00px;top:173.90px;width:1.00px;height:18.10px;background:#A2A4A6"></div>
<div style="left:508.00px;top:173.90px;width:1.00px;height:18.10px;background:#A2A4A6"></div>
<div style="left:527.00px;top:173.90px;width:1.00px;height:18.10px;background:#A2A4A6"></div>
<div style="left:627.00px;top:173.90px;width:1.00px;height:18.10px;background:#A2A4A6"></div>
<div style="left:646.65px;top:173.90px;width:1.00px;height:18.10px;background:#A2A4A6"></div>
<div style="left:666.30px;top:173.90px;width:1.00px;height:18.10px;background:#A2A4A6"></div>
<div style="left:685.95px;top:173.90px;width:1.00px;height:18.10px;background:#A2A4A6"></div>
<div style="left:705.60px;top:173.90px;width:1.00px;height:18.10px;background:#A2A4A6"></div>
<div style="left:725.25px;top:173.90px;width:1.00px;height:18.10px;background:#A2A4A6"></div>
<div style="left:744.90px;top:173.90px;width:1.00px;height:18.10px;background:#A2A4A6"></div>
<div style="left:764.55px;top:173.90px;width:1.00px;height:18.10px;background:#A2A4A6"></div>
<div style="left:784.20px;top:173.90px;width:1.00px;height:18.10px;background:#A2A4A6"></div>
<div style="left:803.85px;top:173.90px;width:1.00px;height:18.10px;background:#A2A4A6"></div>
<div style="left:823.50px;top:173.90px;width:1.00px;height:18.10px;background:#A2A4A6"></div>
<div style="left:921.50px;top:173.90px;width:1.00px;height:18.10px;background:#A2A4A6"></div>
<div style="left:62.00px;top:463.50px;width:860.00px;height:18.10px;background:#fff"></div>
<div style="left:61.50px;top:463.50px;width:1.00px;height:18.10px;background:#A2A4A6"></div>
<div style="left:100.50px;top:463.50px;width:1.00px;height:18.10px;background:#A2A4A6"></div>
<div style="left:152.00px;top:463.50px;width:1.00px;height:18.10px;background:#A2A4A6"></div>
<div style="left:175.00px;top:463.50px;width:1.00px;height:18.10px;background:#A2A4A6"></div>
<div style="left:194.60px;top:463.50px;width:1.00px;height:18.10px;background:#A2A4A6"></div>
<div style="left:214.20px;top:463.50px;width:1.00px;height:18.10px;background:#A2A4A6"></div>
<div style="left:233.80px;top:463.50px;width:1.00px;height:18.10px;background:#A2A4A6"></div>
<div style="left:253.40px;top:463.50px;width:1.00px;height:18.10px;background:#A2A4A6"></div>
<div style="left:273.00px;top:463.50px;width:1.00px;height:18.10px;background:#A2A4A6"></div>
<div style="left:292.60px;top:463.50px;width:1.00px;height:18.10px;background:#A2A4A6"></div>
<div style="left:312.20px;top:463.50px;width:1.00px;height:18.10px;background:#A2A4A6"></div>
<div style="left:331.80px;top:463.50px;width:1.00px;height:18.10px;background:#A2A4A6"></div>
<div style="left:351.40px;top:463.50px;width:1.00px;height:18.10px;background:#A2A4A6"></div>
<div style="left:371.00px;top:463.50px;width:1.00px;height:18.10px;background:#A2A4A6"></div>
<div style="left:471.00px;top:463.50px;width:1.00px;height:18.10px;background:#A2A4A6"></div>
<div style="left:491.00px;top:463.50px;width:1.00px;height:18.10px;background:#A2A4A6"></div>
<div style="left:508.00px;top:463.50px;width:1.00px;height:18.10px;background:#A2A4A6"></div>
<div style="left:527.00px;top:463.50px;width:1.00px;height:18.10px;background:#A2A4A6"></div>
<div style="left:627.00px;top:463.50px;width:1.00px;height:18.10px;background:#A2A4A6"></div>
<div style="left:646.65px;top:463.50px;width:1.00px;height:18.10px;background:#A2A4A6"></div>
<div style="left:666.30px;top:463.50px;width:1.00px;height:18.10px;background:#A2A4A6"></div>
<div style="left:685.95px;top:463.50px;width:1.00px;height:18.10px;background:#A2A4A6"></div>
<div style="left:705.60px;top:463.50px;width:1.00px;height:18.10px;background:#A2A4A6"></div>
<div style="left:725.25px;top:463.50px;width:1.00px;height:18.10px;background:#A2A4A6"></div>
<div style="left:744.90px;top:463.50px;width:1.00px;height:18.10px;background:#A2A4A6"></div>
<div style="left:764.55px;top:463.50px;width:1.00px;height:18.10px;background:#A2A4A6"></div>
<div style="left:784.20px;top:463.50px;width:1.00px;height:18.10px;background:#A2A4A6"></div>
<div style="left:803.85px;top:463.50px;width:1.00px;height:18.10px;background:#A2A4A6"></div>
<div style="left:823.50px;top:463.50px;width:1.00px;height:18.10px;background:#A2A4A6"></div>
<div style="left:921.50px;top:463.50px;width:1.00px;height:18.10px;background:#A2A4A6"></div>
<div style="left:61.00px;top:136.50px;width:861.00px;height:2.00px;background:#1a1a1a"></div>
<div style="left:60.50px;top:155.80px;width:861.50px;height:18.10px;background:#EE3039"><span class="sf">SEGUNDA FASE</span></div>
<div class="apos" style="left:922.00px;top:173.90px;width:40.00px;height:18.1px">Após a classificação</div>
<div class="apos" style="left:922.00px;top:463.50px;width:40.00px;height:18.1px">Após a classificação</div>
<div style="left:922.00px;top:190.50px;width:41.50px;height:1.50px;background:#fff"></div>
<div style="left:60.50px;top:191.60px;width:861.50px;height:17.60px;background:#EE3039"></div>
<div class="h" style="left:60.00px;top:192.00px;width:41.00px;height:18.1px;overflow:hidden"><span style="position:absolute;left:-3.5px;top:3px;font-size:10px;letter-spacing:0.7px">Data/Hora</span></div>
<div class="h" style="left:101.00px;top:192.00px;width:51.50px;height:18.1px">Série</div>
<div class="h" style="left:152.50px;top:192.00px;width:23.00px;height:18.1px">M</div>
<div class="h" style="left:175.50px;top:192.00px;width:196.00px;height:18.1px">ARTILHEIROS</div>
<div class="h" style="left:371.50px;top:192.00px;width:256.00px;height:18.1px">JOGOS</div>
<div class="h" style="left:627.50px;top:192.00px;width:196.50px;height:18.1px">ARTILHEIROS</div>
<div class="h" style="left:824.00px;top:192.00px;width:98.00px;height:18.1px">ÁRBITROS</div>
<div style="left:922.00px;top:191.70px;width:41.50px;height:18.70px;background:#F2E52E;border-right:1.5px solid #A9A9A9"><span class="nokh" style="top:6.50px">NOK</span></div>
<div style="left:922.00px;top:480.10px;width:41.50px;height:1.50px;background:#fff"></div>
<div style="left:60.50px;top:480.20px;width:861.50px;height:18.60px;background:#EE3039"></div>
<div class="h" style="left:60.00px;top:480.80px;width:41.00px;height:18.1px;overflow:hidden"><span style="position:absolute;left:-3.5px;top:3px;font-size:10px;letter-spacing:0.7px">Data/Hora</span></div>
<div class="h" style="left:101.00px;top:480.80px;width:51.50px;height:18.1px">Série</div>
<div class="h" style="left:152.50px;top:480.80px;width:23.00px;height:18.1px">M</div>
<div class="h" style="left:175.50px;top:480.80px;width:196.00px;height:18.1px">ARTILHEIROS</div>
<div class="h" style="left:371.50px;top:480.80px;width:256.00px;height:18.1px">JOGOS</div>
<div class="h" style="left:627.50px;top:480.80px;width:196.50px;height:18.1px">ARTILHEIROS</div>
<div class="h" style="left:824.00px;top:480.80px;width:98.00px;height:18.1px">ÁRBITROS</div>
<div style="left:922.00px;top:480.20px;width:41.50px;height:19.60px;background:#F2E52E;border-right:1.5px solid #A9A9A9"><span class="nokh" style="top:6.80px">NOK</span></div>
<div class="blk" style="left:62.00px;top:65.90px;width:38.00px;height:71.80px;background:#E8713A;"><div class="rot" style="font-size:28px;letter-spacing:-1.25px;left:5.5px;top:17.2px"><svg class="one" viewBox="0 0 556 716" preserveAspectRatio="none" style="color:#fff"><path d="M250,716 L385,716 L385,0 L290,0 C255,80 160,160 45,200 L45,320 C125,295 195,255 250,205 Z" fill="currentColor"/></svg>4/<svg class="one" viewBox="0 0 556 716" preserveAspectRatio="none" style="color:#fff"><path d="M250,716 L385,716 L385,0 L290,0 C255,80 160,160 45,200 L45,320 C125,295 195,255 250,205 Z" fill="currentColor"/></svg><svg class="one" viewBox="0 0 556 716" preserveAspectRatio="none" style="color:#fff"><path d="M250,716 L385,716 L385,0 L290,0 C255,80 160,160 45,200 L45,320 C125,295 195,255 250,205 Z" fill="currentColor"/></svg>/2<svg class="one" viewBox="0 0 556 716" preserveAspectRatio="none" style="color:#fff"><path d="M250,716 L385,716 L385,0 L290,0 C255,80 160,160 45,200 L45,320 C125,295 195,255 250,205 Z" fill="currentColor"/></svg> - 07:30</div></div>
<div class="blk" style="left:101.50px;top:65.90px;width:50.20px;height:71.80px;background:#E8713A;"></div>
<div class="blk" style="left:62.00px;top:211.10px;width:38.00px;height:251.40px;background:#2F5E70;"><div class="rot" style="font-size:28px;letter-spacing:-1.25px;left:5.5px;top:217.7px"><svg class="one" viewBox="0 0 556 716" preserveAspectRatio="none" style="color:#fff"><path d="M250,716 L385,716 L385,0 L290,0 C255,80 160,160 45,200 L45,320 C125,295 195,255 250,205 Z" fill="currentColor"/></svg>5/<svg class="one" viewBox="0 0 556 716" preserveAspectRatio="none" style="color:#fff"><path d="M250,716 L385,716 L385,0 L290,0 C255,80 160,160 45,200 L45,320 C125,295 195,255 250,205 Z" fill="currentColor"/></svg><svg class="one" viewBox="0 0 556 716" preserveAspectRatio="none" style="color:#fff"><path d="M250,716 L385,716 L385,0 L290,0 C255,80 160,160 45,200 L45,320 C125,295 195,255 250,205 Z" fill="currentColor"/></svg>/2<svg class="one" viewBox="0 0 556 716" preserveAspectRatio="none" style="color:#fff"><path d="M250,716 L385,716 L385,0 L290,0 C255,80 160,160 45,200 L45,320 C125,295 195,255 250,205 Z" fill="currentColor"/></svg> - 08:30</div></div>
<div class="blk" style="left:101.50px;top:211.10px;width:50.20px;height:143.80px;background:#CF9F38;"><div class="ser" style="top:58.8px">Ouro <svg class="g1" viewBox="0 0 556 716" preserveAspectRatio="none" style="color:#fff"><path d="M290,716 L385,716 L385,0 L325,0 C295,75 195,150 70,195 L70,285 C165,255 240,205 290,160 Z" fill="currentColor"/></svg>6<br>avos</div></div>
<div class="blk" style="left:101.50px;top:354.90px;width:50.20px;height:107.60px;background:#9C5434;"><div class="ser" style="top:41.7px">Bronze<br>Oitavas</div></div>
<div class="blk" style="left:62.00px;top:500.70px;width:38.00px;height:143.40px;background:#D02E38;"><div class="rot" style="font-size:28px;letter-spacing:-1.25px;left:5.5px;top:201.4px"><svg class="one" viewBox="0 0 556 716" preserveAspectRatio="none" style="color:#fff"><path d="M250,716 L385,716 L385,0 L290,0 C255,80 160,160 45,200 L45,320 C125,295 195,255 250,205 Z" fill="currentColor"/></svg>5/<svg class="one" viewBox="0 0 556 716" preserveAspectRatio="none" style="color:#fff"><path d="M250,716 L385,716 L385,0 L290,0 C255,80 160,160 45,200 L45,320 C125,295 195,255 250,205 Z" fill="currentColor"/></svg><svg class="one" viewBox="0 0 556 716" preserveAspectRatio="none" style="color:#fff"><path d="M250,716 L385,716 L385,0 L290,0 C255,80 160,160 45,200 L45,320 C125,295 195,255 250,205 Z" fill="currentColor"/></svg>/2<svg class="one" viewBox="0 0 556 716" preserveAspectRatio="none" style="color:#fff"><path d="M250,716 L385,716 L385,0 L290,0 C255,80 160,160 45,200 L45,320 C125,295 195,255 250,205 Z" fill="currentColor"/></svg> - 09:30</div></div>
<div class="blk" style="left:101.50px;top:500.70px;width:50.20px;height:71.40px;background:#CF9F38;"><div class="ser" style="top:23.6px">Ouro<br>Oitavas</div></div>
<div class="blk" style="left:101.50px;top:572.10px;width:50.20px;height:72.00px;background:#848484;"><div class="ser" style="top:58.9px">Prata</div></div>
<div style="left:101.50px;top:354.10px;width:50.20px;height:1.60px;background:#FBF3E0"></div>
<div style="left:101.50px;top:571.30px;width:50.20px;height:1.60px;background:#FBF3E0"></div>
</body></html>
